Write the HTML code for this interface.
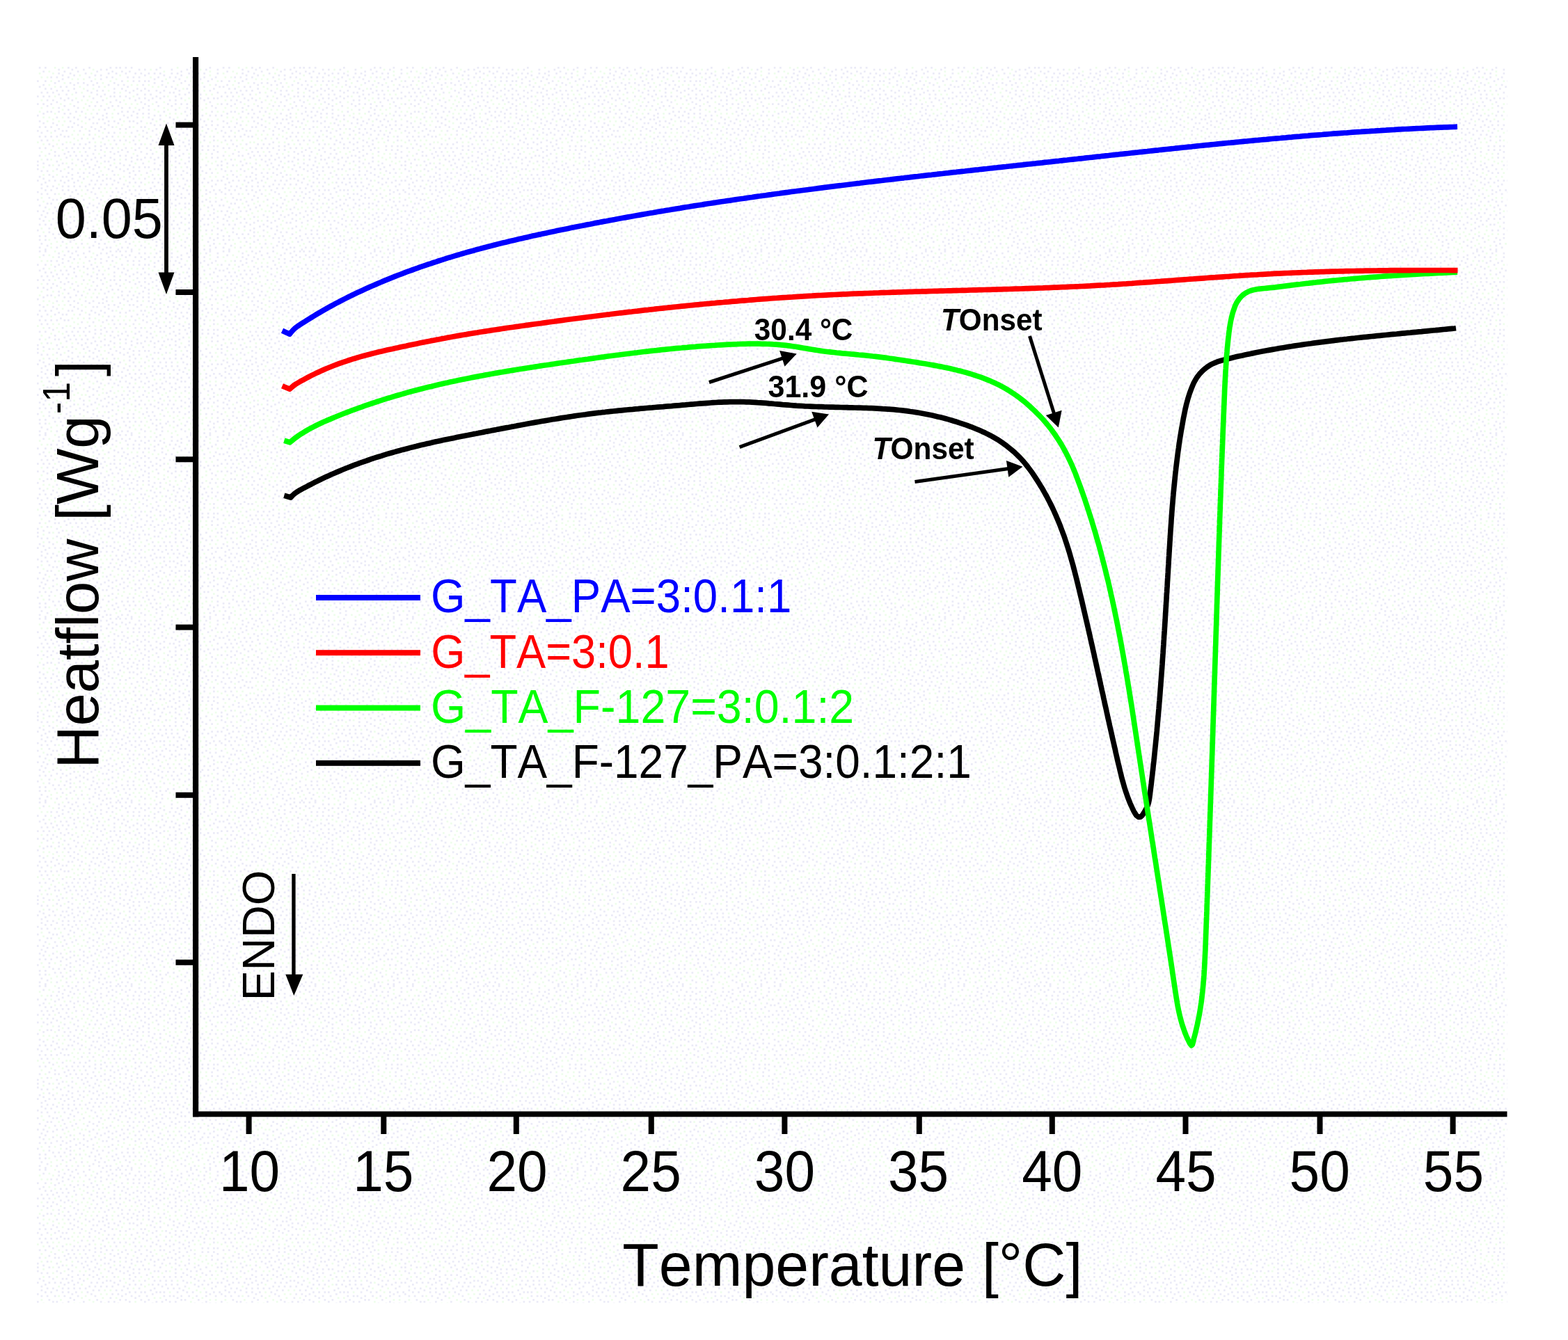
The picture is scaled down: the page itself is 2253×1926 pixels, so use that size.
<!DOCTYPE html>
<html lang="en">
<head>
<meta charset="utf-8">
<title>DSC thermograms</title>
<style>
html,body{margin:0;padding:0;background:#fff;}
body{width:2253px;height:1926px;overflow:hidden;}
svg{display:block;}
svg text{font-family:"Liberation Sans",Arial,Helvetica,sans-serif;font-kerning:none;}
</style>
</head>
<body>
<svg width="2253" height="1926" viewBox="0 0 2253 1926">
<defs><pattern id="dz" x="53" y="96" width="264.00" height="264.00" patternUnits="userSpaceOnUse"><path d="M2.75 1.375h2.75M11 1.375h2.75M44 1.375h2.75M55 1.375h2.75M74.25 1.375h2.75M104.5 1.375h2.75M112.75 1.375h2.75M118.25 1.375h2.75M126.5 1.375h2.75M134.75 1.375h2.75M176 1.375h2.75M220 1.375h2.75M228.25 1.375h2.75M247.5 1.375h2.75M30.25 4.125h2.75M49.5 4.125h2.75M66 4.125h2.75M90.75 4.125h2.75M99 4.125h2.75M145.75 4.125h2.75M154 4.125h2.75M170.5 4.125h2.75M192.5 4.125h2.75M214.5 4.125h2.75M242 4.125h2.75M258.5 4.125h2.75M8.25 6.875h2.75M38.5 6.875h2.75M57.75 6.875h2.75M85.25 6.875h2.75M107.25 6.875h2.75M121 6.875h2.75M132 6.875h2.75M206.25 6.875h2.75M222.75 6.875h2.75M30.25 9.625h2.75M46.75 9.625h2.75M68.75 9.625h2.75M101.75 9.625h2.75M112.75 9.625h2.75M126.5 9.625h2.75M140.25 9.625h2.75M148.5 9.625h2.75M159.5 9.625h2.75M167.75 9.625h2.75M176 9.625h2.75M192.5 9.625h2.75M200.75 9.625h2.75M217.25 9.625h2.75M231 9.625h2.75M239.25 9.625h2.75M258.5 9.625h2.75M35.75 12.375h2.75M52.25 12.375h2.75M82.5 12.375h2.75M90.75 12.375h2.75M154 12.375h2.75M181.5 12.375h2.75M206.25 12.375h2.75M19.25 15.125h2.75M27.5 15.125h2.75M44 15.125h2.75M74.25 15.125h2.75M99 15.125h2.75M107.25 15.125h2.75M129.25 15.125h2.75M137.5 15.125h2.75M145.75 15.125h2.75M173.25 15.125h2.75M189.75 15.125h2.75M198 15.125h2.75M222.75 15.125h2.75M239.25 15.125h2.75M255.75 15.125h2.75M35.75 17.875h2.75M90.75 17.875h2.75M167.75 17.875h2.75M203.5 17.875h2.75M233.75 17.875h2.75M250.25 17.875h2.75M0 20.625h2.75M11 20.625h2.75M30.25 20.625h2.75M77 20.625h2.75M121 20.625h2.75M137.5 20.625h2.75M145.75 20.625h2.75M154 20.625h2.75M159.5 20.625h2.75M178.75 20.625h2.75M195.25 20.625h2.75M211.75 20.625h2.75M244.75 20.625h2.75M24.75 23.375h2.75M46.75 23.375h2.75M57.75 23.375h2.75M66 23.375h2.75M85.25 23.375h2.75M110 23.375h2.75M167.75 23.375h2.75M206.25 23.375h2.75M225.5 23.375h2.75M8.25 26.125h2.75M52.25 26.125h2.75M71.5 26.125h2.75M79.75 26.125h2.75M101.75 26.125h2.75M115.5 26.125h2.75M123.75 26.125h2.75M151.25 26.125h2.75M178.75 26.125h2.75M217.25 26.125h2.75M231 26.125h2.75M255.75 26.125h2.75M2.75 28.875h2.75M33 28.875h2.75M41.25 28.875h2.75M88 28.875h2.75M129.25 28.875h2.75M184.25 28.875h2.75M192.5 28.875h2.75M239.25 28.875h2.75M261.25 28.875h2.75M11 31.625h2.75M19.25 31.625h2.75M52.25 31.625h2.75M110 31.625h2.75M121 31.625h2.75M143 31.625h2.75M154 31.625h2.75M198 31.625h2.75M214.5 31.625h2.75M253 31.625h2.75M27.5 34.375h2.75M35.75 34.375h2.75M44 34.375h2.75M71.5 34.375h2.75M85.25 34.375h2.75M93.5 34.375h2.75M126.5 34.375h2.75M137.5 34.375h2.75M148.5 34.375h2.75M159.5 34.375h2.75M170.5 34.375h2.75M181.5 34.375h2.75M203.5 34.375h2.75M222.75 34.375h2.75M231 34.375h2.75M247.5 34.375h2.75M5.5 37.125h2.75M13.75 37.125h2.75M22 37.125h2.75M55 37.125h2.75M77 37.125h2.75M110 37.125h2.75M132 37.125h2.75M176 37.125h2.75M189.75 37.125h2.75M195.25 37.125h2.75M217.25 37.125h2.75M258.5 37.125h2.75M30.25 39.875h2.75M41.25 39.875h2.75M85.25 39.875h2.75M96.25 39.875h2.75M143 39.875h2.75M154 39.875h2.75M162.25 39.875h2.75M203.5 39.875h2.75M211.75 39.875h2.75M225.5 39.875h2.75M233.75 39.875h2.75M0 42.625h2.75M8.25 42.625h2.75M16.5 42.625h2.75M66 42.625h2.75M90.75 42.625h2.75M104.5 42.625h2.75M110 42.625h2.75M118.25 42.625h2.75M126.5 42.625h2.75M170.5 42.625h2.75M181.5 42.625h2.75M198 42.625h2.75M33 45.375h2.75M44 45.375h2.75M79.75 45.375h2.75M132 45.375h2.75M145.75 45.375h2.75M154 45.375h2.75M165 45.375h2.75M176 45.375h2.75M206.25 45.375h2.75M225.5 45.375h2.75M233.75 45.375h2.75M244.75 45.375h2.75M253 45.375h2.75M258.5 45.375h2.75M13.75 48.125h2.75M22 48.125h2.75M38.5 48.125h2.75M49.5 48.125h2.75M93.5 48.125h2.75M112.75 48.125h2.75M140.25 48.125h2.75M159.5 48.125h2.75M189.75 48.125h2.75M198 48.125h2.75M239.25 48.125h2.75M27.5 50.875h2.75M57.75 50.875h2.75M85.25 50.875h2.75M104.5 50.875h2.75M118.25 50.875h2.75M148.5 50.875h2.75M170.5 50.875h2.75M228.25 50.875h2.75M247.5 50.875h2.75M0 53.625h2.75M8.25 53.625h2.75M19.25 53.625h2.75M154 53.625h2.75M187 53.625h2.75M198 53.625h2.75M206.25 53.625h2.75M214.5 53.625h2.75M13.75 56.375h2.75M38.5 56.375h2.75M52.25 56.375h2.75M74.25 56.375h2.75M82.5 56.375h2.75M90.75 56.375h2.75M107.25 56.375h2.75M115.5 56.375h2.75M159.5 56.375h2.75M173.25 56.375h2.75M192.5 56.375h2.75M222.75 56.375h2.75M231 56.375h2.75M250.25 56.375h2.75M30.25 59.125h2.75M57.75 59.125h2.75M101.75 59.125h2.75M121 59.125h2.75M132 59.125h2.75M151.25 59.125h2.75M214.5 59.125h2.75M255.75 59.125h2.75M44 61.875h2.75M96.25 61.875h2.75M145.75 61.875h2.75M159.5 61.875h2.75M198 61.875h2.75M220 61.875h2.75M13.75 64.625h2.75M19.25 64.625h2.75M30.25 64.625h2.75M55 64.625h2.75M63.25 64.625h2.75M121 64.625h2.75M129.25 64.625h2.75M137.5 64.625h2.75M181.5 64.625h2.75M211.75 64.625h2.75M250.25 64.625h2.75M8.25 67.375h2.75M38.5 67.375h2.75M46.75 67.375h2.75M85.25 67.375h2.75M99 67.375h2.75M115.5 67.375h2.75M143 67.375h2.75M151.25 67.375h2.75M159.5 67.375h2.75M220 67.375h2.75M0 70.125h2.75M93.5 70.125h2.75M123.75 70.125h2.75M134.75 70.125h2.75M167.75 70.125h2.75M176 70.125h2.75M214.5 70.125h2.75M225.5 70.125h2.75M236.5 70.125h2.75M247.5 70.125h2.75M255.75 70.125h2.75M27.5 72.875h2.75M44 72.875h2.75M52.25 72.875h2.75M68.75 72.875h2.75M79.75 72.875h2.75M99 72.875h2.75M129.25 72.875h2.75M143 72.875h2.75M159.5 72.875h2.75M189.75 72.875h2.75M57.75 75.625h2.75M74.25 75.625h2.75M88 75.625h2.75M93.5 75.625h2.75M118.25 75.625h2.75M165 75.625h2.75M176 75.625h2.75M195.25 75.625h2.75M211.75 75.625h2.75M222.75 75.625h2.75M233.75 75.625h2.75M2.75 78.375h2.75M46.75 78.375h2.75M101.75 78.375h2.75M110 78.375h2.75M132 78.375h2.75M137.5 78.375h2.75M148.5 78.375h2.75M203.5 78.375h2.75M228.25 78.375h2.75M239.25 78.375h2.75M250.25 78.375h2.75M8.25 81.125h2.75M22 81.125h2.75M52.25 81.125h2.75M79.75 81.125h2.75M85.25 81.125h2.75M96.25 81.125h2.75M115.5 81.125h2.75M143 81.125h2.75M162.25 81.125h2.75M187 81.125h2.75M195.25 81.125h2.75M209 81.125h2.75M27.5 83.875h2.75M57.75 83.875h2.75M101.75 83.875h2.75M167.75 83.875h2.75M176 83.875h2.75M200.75 83.875h2.75M217.25 83.875h2.75M231 83.875h2.75M242 83.875h2.75M250.25 83.875h2.75M258.5 83.875h2.75M2.75 86.625h2.75M11 86.625h2.75M19.25 86.625h2.75M44 86.625h2.75M49.5 86.625h2.75M63.25 86.625h2.75M77 86.625h2.75M90.75 86.625h2.75M107.25 86.625h2.75M132 86.625h2.75M148.5 86.625h2.75M154 86.625h2.75M225.5 86.625h2.75M236.5 86.625h2.75M30.25 89.375h2.75M82.5 89.375h2.75M96.25 89.375h2.75M118.25 89.375h2.75M126.5 89.375h2.75M170.5 89.375h2.75M184.25 89.375h2.75M198 89.375h2.75M206.25 89.375h2.75M214.5 89.375h2.75M244.75 89.375h2.75M255.75 89.375h2.75M0 92.125h2.75M13.75 92.125h2.75M24.75 92.125h2.75M35.75 92.125h2.75M41.25 92.125h2.75M60.5 92.125h2.75M74.25 92.125h2.75M88 92.125h2.75M143 92.125h2.75M151.25 92.125h2.75M165 92.125h2.75M189.75 92.125h2.75M220 92.125h2.75M228.25 92.125h2.75M5.5 94.875h2.75M101.75 94.875h2.75M110 94.875h2.75M134.75 94.875h2.75M156.75 94.875h2.75M198 94.875h2.75M209 94.875h2.75M242 94.875h2.75M33 97.625h2.75M74.25 97.625h2.75M170.5 97.625h2.75M184.25 97.625h2.75M203.5 97.625h2.75M214.5 97.625h2.75M225.5 97.625h2.75M233.75 97.625h2.75M2.75 100.375h2.75M11 100.375h2.75M19.25 100.375h2.75M27.5 100.375h2.75M38.5 100.375h2.75M44 100.375h2.75M99 100.375h2.75M107.25 100.375h2.75M140.25 100.375h2.75M151.25 100.375h2.75M239.25 100.375h2.75M253 100.375h2.75M63.25 103.125h2.75M79.75 103.125h2.75M93.5 103.125h2.75M156.75 103.125h2.75M173.25 103.125h2.75M189.75 103.125h2.75M222.75 103.125h2.75M5.5 105.875h2.75M13.75 105.875h2.75M110 105.875h2.75M118.25 105.875h2.75M126.5 105.875h2.75M137.5 105.875h2.75M165 105.875h2.75M203.5 105.875h2.75M217.25 105.875h2.75M239.25 105.875h2.75M253 105.875h2.75M74.25 108.625h2.75M170.5 108.625h2.75M184.25 108.625h2.75M195.25 108.625h2.75M209 108.625h2.75M16.5 111.375h2.75M35.75 111.375h2.75M52.25 111.375h2.75M60.5 111.375h2.75M68.75 111.375h2.75M96.25 111.375h2.75M112.75 111.375h2.75M140.25 111.375h2.75M148.5 111.375h2.75M162.25 111.375h2.75M176 111.375h2.75M189.75 111.375h2.75M217.25 111.375h2.75M22 114.125h2.75M82.5 114.125h2.75M90.75 114.125h2.75M203.5 114.125h2.75M211.75 114.125h2.75M236.5 114.125h2.75M244.75 114.125h2.75M253 114.125h2.75M258.5 114.125h2.75M2.75 116.875h2.75M11 116.875h2.75M41.25 116.875h2.75M49.5 116.875h2.75M57.75 116.875h2.75M66 116.875h2.75M74.25 116.875h2.75M99 116.875h2.75M107.25 116.875h2.75M126.5 116.875h2.75M145.75 116.875h2.75M156.75 116.875h2.75M176 116.875h2.75M181.5 116.875h2.75M195.25 116.875h2.75M220 116.875h2.75M82.5 119.625h2.75M90.75 119.625h2.75M121 119.625h2.75M140.25 119.625h2.75M162.25 119.625h2.75M189.75 119.625h2.75M203.5 119.625h2.75M214.5 119.625h2.75M236.5 119.625h2.75M244.75 119.625h2.75M253 119.625h2.75M24.75 122.375h2.75M44 122.375h2.75M52.25 122.375h2.75M68.75 122.375h2.75M104.5 122.375h2.75M115.5 122.375h2.75M129.25 122.375h2.75M148.5 122.375h2.75M198 122.375h2.75M225.5 122.375h2.75M258.5 122.375h2.75M16.5 125.125h2.75M38.5 125.125h2.75M79.75 125.125h2.75M110 125.125h2.75M156.75 125.125h2.75M165 125.125h2.75M209 125.125h2.75M250.25 125.125h2.75M2.75 127.875h2.75M24.75 127.875h2.75M30.25 127.875h2.75M46.75 127.875h2.75M55 127.875h2.75M63.25 127.875h2.75M71.5 127.875h2.75M96.25 127.875h2.75M118.25 127.875h2.75M126.5 127.875h2.75M143 127.875h2.75M187 127.875h2.75M192.5 127.875h2.75M203.5 127.875h2.75M41.25 130.625h2.75M82.5 130.625h2.75M90.75 130.625h2.75M104.5 130.625h2.75M134.75 130.625h2.75M154 130.625h2.75M162.25 130.625h2.75M173.25 130.625h2.75M181.5 130.625h2.75M198 130.625h2.75M217.25 130.625h2.75M250.25 130.625h2.75M258.5 130.625h2.75M13.75 133.375h2.75M57.75 133.375h2.75M68.75 133.375h2.75M77 133.375h2.75M110 133.375h2.75M126.5 133.375h2.75M143 133.375h2.75M148.5 133.375h2.75M167.75 133.375h2.75M0 136.125h2.75M27.5 136.125h2.75M63.25 136.125h2.75M85.25 136.125h2.75M96.25 136.125h2.75M101.75 136.125h2.75M134.75 136.125h2.75M178.75 136.125h2.75M189.75 136.125h2.75M198 136.125h2.75M217.25 136.125h2.75M8.25 138.875h2.75M35.75 138.875h2.75M49.5 138.875h2.75M71.5 138.875h2.75M118.25 138.875h2.75M151.25 138.875h2.75M167.75 138.875h2.75M203.5 138.875h2.75M211.75 138.875h2.75M231 138.875h2.75M0 141.625h2.75M16.5 141.625h2.75M30.25 141.625h2.75M66 141.625h2.75M82.5 141.625h2.75M104.5 141.625h2.75M123.75 141.625h2.75M132 141.625h2.75M176 141.625h2.75M225.5 141.625h2.75M242 141.625h2.75M258.5 141.625h2.75M44 144.375h2.75M74.25 144.375h2.75M88 144.375h2.75M112.75 144.375h2.75M137.5 144.375h2.75M145.75 144.375h2.75M154 144.375h2.75M159.5 144.375h2.75M198 144.375h2.75M214.5 144.375h2.75M233.75 144.375h2.75M0 147.125h2.75M27.5 147.125h2.75M49.5 147.125h2.75M79.75 147.125h2.75M101.75 147.125h2.75M118.25 147.125h2.75M129.25 147.125h2.75M167.75 147.125h2.75M173.25 147.125h2.75M184.25 147.125h2.75M220 147.125h2.75M228.25 147.125h2.75M247.5 147.125h2.75M5.5 149.875h2.75M13.75 149.875h2.75M33 149.875h2.75M107.25 149.875h2.75M123.75 149.875h2.75M137.5 149.875h2.75M145.75 149.875h2.75M198 149.875h2.75M209 149.875h2.75M236.5 149.875h2.75M44 152.625h2.75M57.75 152.625h2.75M66 152.625h2.75M74.25 152.625h2.75M85.25 152.625h2.75M132 152.625h2.75M156.75 152.625h2.75M214.5 152.625h2.75M242 152.625h2.75M250.25 152.625h2.75M16.5 155.375h2.75M49.5 155.375h2.75M79.75 155.375h2.75M93.5 155.375h2.75M110 155.375h2.75M140.25 155.375h2.75M165 155.375h2.75M181.5 155.375h2.75M189.75 155.375h2.75M198 155.375h2.75M206.25 155.375h2.75M220 155.375h2.75M2.75 158.125h2.75M22 158.125h2.75M35.75 158.125h2.75M41.25 158.125h2.75M60.5 158.125h2.75M88 158.125h2.75M132 158.125h2.75M225.5 158.125h2.75M8.25 160.875h2.75M49.5 160.875h2.75M66 160.875h2.75M99 160.875h2.75M104.5 160.875h2.75M118.25 160.875h2.75M137.5 160.875h2.75M154 160.875h2.75M167.75 160.875h2.75M176 160.875h2.75M184.25 160.875h2.75M192.5 160.875h2.75M209 160.875h2.75M231 160.875h2.75M239.25 160.875h2.75M0 163.625h2.75M16.5 163.625h2.75M24.75 163.625h2.75M33 163.625h2.75M44 163.625h2.75M57.75 163.625h2.75M77 163.625h2.75M85.25 163.625h2.75M93.5 163.625h2.75M110 163.625h2.75M214.5 163.625h2.75M250.25 163.625h2.75M258.5 163.625h2.75M11 166.375h2.75M38.5 166.375h2.75M52.25 166.375h2.75M115.5 166.375h2.75M132 166.375h2.75M140.25 166.375h2.75M148.5 166.375h2.75M165 166.375h2.75M173.25 166.375h2.75M184.25 166.375h2.75M192.5 166.375h2.75M200.75 166.375h2.75M225.5 166.375h2.75M236.5 166.375h2.75M244.75 166.375h2.75M5.5 169.125h2.75M74.25 169.125h2.75M82.5 169.125h2.75M90.75 169.125h2.75M99 169.125h2.75M107.25 169.125h2.75M123.75 169.125h2.75M178.75 169.125h2.75M211.75 169.125h2.75M231 169.125h2.75M255.75 169.125h2.75M13.75 171.875h2.75M22 171.875h2.75M35.75 171.875h2.75M44 171.875h2.75M52.25 171.875h2.75M60.5 171.875h2.75M68.75 171.875h2.75M129.25 171.875h2.75M145.75 171.875h2.75M167.75 171.875h2.75M187 171.875h2.75M195.25 171.875h2.75M203.5 171.875h2.75M250.25 171.875h2.75M5.5 174.625h2.75M27.5 174.625h2.75M79.75 174.625h2.75M88 174.625h2.75M112.75 174.625h2.75M121 174.625h2.75M162.25 174.625h2.75M209 174.625h2.75M11 177.375h2.75M19.25 177.375h2.75M35.75 177.375h2.75M44 177.375h2.75M55 177.375h2.75M71.5 177.375h2.75M132 177.375h2.75M140.25 177.375h2.75M148.5 177.375h2.75M154 177.375h2.75M170.5 177.375h2.75M176 177.375h2.75M181.5 177.375h2.75M200.75 177.375h2.75M214.5 177.375h2.75M222.75 177.375h2.75M242 177.375h2.75M253 177.375h2.75M261.25 177.375h2.75M0 180.125h2.75M49.5 180.125h2.75M77 180.125h2.75M107.25 180.125h2.75M115.5 180.125h2.75M126.5 180.125h2.75M165 180.125h2.75M247.5 180.125h2.75M5.5 182.875h2.75M13.75 182.875h2.75M24.75 182.875h2.75M38.5 182.875h2.75M57.75 182.875h2.75M82.5 182.875h2.75M121 182.875h2.75M134.75 182.875h2.75M145.75 182.875h2.75M156.75 182.875h2.75M181.5 182.875h2.75M189.75 182.875h2.75M195.25 182.875h2.75M206.25 182.875h2.75M217.25 182.875h2.75M228.25 182.875h2.75M242 182.875h2.75M255.75 182.875h2.75M46.75 185.625h2.75M104.5 185.625h2.75M140.25 185.625h2.75M200.75 185.625h2.75M16.5 188.375h2.75M52.25 188.375h2.75M85.25 188.375h2.75M118.25 188.375h2.75M126.5 188.375h2.75M148.5 188.375h2.75M159.5 188.375h2.75M184.25 188.375h2.75M206.25 188.375h2.75M211.75 188.375h2.75M231 188.375h2.75M0 191.125h2.75M22 191.125h2.75M27.5 191.125h2.75M44 191.125h2.75M66 191.125h2.75M90.75 191.125h2.75M101.75 191.125h2.75M110 191.125h2.75M132 191.125h2.75M154 191.125h2.75M170.5 191.125h2.75M178.75 191.125h2.75M189.75 191.125h2.75M198 191.125h2.75M242 191.125h2.75M35.75 193.875h2.75M115.5 193.875h2.75M165 193.875h2.75M225.5 193.875h2.75M236.5 193.875h2.75M247.5 193.875h2.75M255.75 193.875h2.75M13.75 196.625h2.75M19.25 196.625h2.75M74.25 196.625h2.75M88 196.625h2.75M129.25 196.625h2.75M137.5 196.625h2.75M145.75 196.625h2.75M159.5 196.625h2.75M176 196.625h2.75M192.5 196.625h2.75M203.5 196.625h2.75M211.75 196.625h2.75M217.25 196.625h2.75M2.75 199.375h2.75M38.5 199.375h2.75M55 199.375h2.75M79.75 199.375h2.75M170.5 199.375h2.75M181.5 199.375h2.75M198 199.375h2.75M222.75 199.375h2.75M250.25 199.375h2.75M261.25 199.375h2.75M11 202.125h2.75M24.75 202.125h2.75M49.5 202.125h2.75M71.5 202.125h2.75M85.25 202.125h2.75M104.5 202.125h2.75M132 202.125h2.75M154 202.125h2.75M165 202.125h2.75M189.75 202.125h2.75M211.75 202.125h2.75M244.75 202.125h2.75M41.25 204.875h2.75M99 204.875h2.75M137.5 204.875h2.75M173.25 204.875h2.75M233.75 204.875h2.75M253 204.875h2.75M0 207.625h2.75M8.25 207.625h2.75M27.5 207.625h2.75M35.75 207.625h2.75M79.75 207.625h2.75M121 207.625h2.75M129.25 207.625h2.75M151.25 207.625h2.75M13.75 210.375h2.75M22 210.375h2.75M74.25 210.375h2.75M101.75 210.375h2.75M112.75 210.375h2.75M145.75 210.375h2.75M156.75 210.375h2.75M165 210.375h2.75M187 210.375h2.75M203.5 210.375h2.75M222.75 210.375h2.75M231 210.375h2.75M253 210.375h2.75M5.5 213.125h2.75M60.5 213.125h2.75M85.25 213.125h2.75M96.25 213.125h2.75M107.25 213.125h2.75M123.75 213.125h2.75M176 213.125h2.75M217.25 213.125h2.75M239.25 213.125h2.75M247.5 213.125h2.75M11 215.875h2.75M46.75 215.875h2.75M66 215.875h2.75M90.75 215.875h2.75M118.25 215.875h2.75M140.25 215.875h2.75M148.5 215.875h2.75M189.75 215.875h2.75M206.25 215.875h2.75M225.5 215.875h2.75M258.5 215.875h2.75M2.75 218.625h2.75M22 218.625h2.75M33 218.625h2.75M82.5 218.625h2.75M101.75 218.625h2.75M129.25 218.625h2.75M173.25 218.625h2.75M211.75 218.625h2.75M220 218.625h2.75M236.5 218.625h2.75M244.75 218.625h2.75M253 218.625h2.75M8.25 221.375h2.75M52.25 221.375h2.75M66 221.375h2.75M77 221.375h2.75M107.25 221.375h2.75M123.75 221.375h2.75M145.75 221.375h2.75M154 221.375h2.75M162.25 221.375h2.75M178.75 221.375h2.75M187 221.375h2.75M195.25 221.375h2.75M225.5 221.375h2.75M233.75 221.375h2.75M27.5 224.125h2.75M35.75 224.125h2.75M46.75 224.125h2.75M71.5 224.125h2.75M93.5 224.125h2.75M99 224.125h2.75M115.5 224.125h2.75M140.25 224.125h2.75M167.75 224.125h2.75M206.25 224.125h2.75M217.25 224.125h2.75M258.5 224.125h2.75M2.75 226.875h2.75M11 226.875h2.75M19.25 226.875h2.75M41.25 226.875h2.75M60.5 226.875h2.75M156.75 226.875h2.75M173.25 226.875h2.75M192.5 226.875h2.75M200.75 226.875h2.75M228.25 226.875h2.75M239.25 226.875h2.75M244.75 226.875h2.75M33 229.625h2.75M55 229.625h2.75M66 229.625h2.75M79.75 229.625h2.75M107.25 229.625h2.75M178.75 229.625h2.75M222.75 229.625h2.75M16.5 232.375h2.75M46.75 232.375h2.75M71.5 232.375h2.75M101.75 232.375h2.75M156.75 232.375h2.75M165 232.375h2.75M195.25 232.375h2.75M203.5 232.375h2.75M217.25 232.375h2.75M258.5 232.375h2.75M0 235.125h2.75M41.25 235.125h2.75M60.5 235.125h2.75M79.75 235.125h2.75M112.75 235.125h2.75M129.25 235.125h2.75M137.5 235.125h2.75M151.25 235.125h2.75M211.75 235.125h2.75M242 235.125h2.75M250.25 235.125h2.75M16.5 237.875h2.75M46.75 237.875h2.75M85.25 237.875h2.75M93.5 237.875h2.75M159.5 237.875h2.75M167.75 237.875h2.75M181.5 237.875h2.75M22 240.625h2.75M30.25 240.625h2.75M38.5 240.625h2.75M77 240.625h2.75M101.75 240.625h2.75M121 240.625h2.75M129.25 240.625h2.75M137.5 240.625h2.75M258.5 240.625h2.75M2.75 243.375h2.75M11 243.375h2.75M46.75 243.375h2.75M60.5 243.375h2.75M88 243.375h2.75M112.75 243.375h2.75M162.25 243.375h2.75M170.5 243.375h2.75M222.75 243.375h2.75M24.75 246.125h2.75M33 246.125h2.75M74.25 246.125h2.75M82.5 246.125h2.75M107.25 246.125h2.75M123.75 246.125h2.75M132 246.125h2.75M140.25 246.125h2.75M148.5 246.125h2.75M187 246.125h2.75M195.25 246.125h2.75M214.5 246.125h2.75M228.25 246.125h2.75M247.5 246.125h2.75M258.5 246.125h2.75M2.75 248.875h2.75M11 248.875h2.75M52.25 248.875h2.75M90.75 248.875h2.75M115.5 248.875h2.75M165 248.875h2.75M176 248.875h2.75M184.25 248.875h2.75M253 248.875h2.75M35.75 251.625h2.75M46.75 251.625h2.75M82.5 251.625h2.75M110 251.625h2.75M126.5 251.625h2.75M170.5 251.625h2.75M200.75 251.625h2.75M211.75 251.625h2.75M231 251.625h2.75M244.75 251.625h2.75M5.5 254.375h2.75M63.25 254.375h2.75M88 254.375h2.75M96.25 254.375h2.75M132 254.375h2.75M178.75 254.375h2.75M253 254.375h2.75M13.75 257.125h2.75M79.75 257.125h2.75M148.5 257.125h2.75M170.5 257.125h2.75M206.25 257.125h2.75M247.5 257.125h2.75M2.75 259.875h2.75M27.5 259.875h2.75M41.25 259.875h2.75M57.75 259.875h2.75M74.25 259.875h2.75M88 259.875h2.75M99 259.875h2.75M104.5 259.875h2.75M121 259.875h2.75M129.25 259.875h2.75M154 259.875h2.75M178.75 259.875h2.75M211.75 259.875h2.75M225.5 259.875h2.75M255.75 259.875h2.75M11 262.625h2.75M93.5 262.625h2.75M115.5 262.625h2.75M134.75 262.625h2.75M220 262.625h2.75M239.25 262.625h2.75M247.5 262.625h2.75" stroke="#ebebf7" stroke-width="2.75" fill="none"/><path d="M24.75 1.375h2.75M35.75 1.375h2.75M200.75 1.375h2.75M79.75 4.125h2.75M162.25 4.125h2.75M233.75 4.125h2.75M16.5 6.875h2.75M181.5 6.875h2.75M247.5 6.875h2.75M2.75 9.625h2.75M22 9.625h2.75M77 9.625h2.75M60.5 12.375h2.75M118.25 12.375h2.75M247.5 12.375h2.75M5.5 15.125h2.75M13.75 15.125h2.75M162.25 15.125h2.75M214.5 15.125h2.75M228.25 15.125h2.75M49.5 17.875h2.75M57.75 17.875h2.75M66 17.875h2.75M82.5 17.875h2.75M112.75 17.875h2.75M184.25 17.875h2.75M19.25 20.625h2.75M104.5 20.625h2.75M129.25 20.625h2.75M220 20.625h2.75M258.5 20.625h2.75M38.5 23.375h2.75M93.5 23.375h2.75M187 23.375h2.75M236.5 23.375h2.75M16.5 26.125h2.75M134.75 26.125h2.75M143 26.125h2.75M159.5 26.125h2.75M200.75 26.125h2.75M247.5 26.125h2.75M24.75 28.875h2.75M60.5 28.875h2.75M96.25 28.875h2.75M165 28.875h2.75M173.25 28.875h2.75M222.75 28.875h2.75M66 31.625h2.75M79.75 31.625h2.75M209 31.625h2.75M101.75 34.375h2.75M239.25 34.375h2.75M63.25 37.125h2.75M118.25 37.125h2.75M49.5 39.875h2.75M242 39.875h2.75M250.25 39.875h2.75M24.75 42.625h2.75M74.25 42.625h2.75M137.5 42.625h2.75M187 42.625h2.75M55 45.375h2.75M99 45.375h2.75M217.25 45.375h2.75M5.5 48.125h2.75M63.25 48.125h2.75M71.5 48.125h2.75M123.75 48.125h2.75M211.75 48.125h2.75M77 50.875h2.75M181.5 50.875h2.75M220 50.875h2.75M33 53.625h2.75M46.75 53.625h2.75M68.75 53.625h2.75M99 53.625h2.75M126.5 53.625h2.75M134.75 53.625h2.75M143 53.625h2.75M165 53.625h2.75M242 53.625h2.75M258.5 53.625h2.75M5.5 59.125h2.75M22 59.125h2.75M66 59.125h2.75M140.25 59.125h2.75M181.5 59.125h2.75M203.5 59.125h2.75M242 59.125h2.75M35.75 61.875h2.75M71.5 61.875h2.75M79.75 61.875h2.75M88 61.875h2.75M110 61.875h2.75M167.75 61.875h2.75M187 61.875h2.75M228.25 61.875h2.75M236.5 61.875h2.75M2.75 64.625h2.75M173.25 64.625h2.75M258.5 64.625h2.75M24.75 67.375h2.75M68.75 67.375h2.75M77 67.375h2.75M107.25 67.375h2.75M189.75 67.375h2.75M198 67.375h2.75M206.25 67.375h2.75M231 67.375h2.75M242 67.375h2.75M60.5 70.125h2.75M184.25 70.125h2.75M8.25 72.875h2.75M16.5 72.875h2.75M35.75 72.875h2.75M107.25 72.875h2.75M151.25 72.875h2.75M200.75 72.875h2.75M22 75.625h2.75M244.75 75.625h2.75M258.5 75.625h2.75M13.75 78.375h2.75M30.25 78.375h2.75M38.5 78.375h2.75M63.25 78.375h2.75M123.75 78.375h2.75M170.5 78.375h2.75M181.5 78.375h2.75M217.25 78.375h2.75M68.75 81.125h2.75M156.75 81.125h2.75M35.75 83.875h2.75M121 83.875h2.75M112.75 86.625h2.75M137.5 86.625h2.75M192.5 86.625h2.75M68.75 89.375h2.75M159.5 89.375h2.75M178.75 89.375h2.75M52.25 92.125h2.75M236.5 92.125h2.75M250.25 92.125h2.75M19.25 94.875h2.75M93.5 94.875h2.75M118.25 94.875h2.75M126.5 94.875h2.75M176 94.875h2.75M258.5 94.875h2.75M49.5 97.625h2.75M57.75 97.625h2.75M66 97.625h2.75M82.5 97.625h2.75M145.75 97.625h2.75M192.5 97.625h2.75M88 100.375h2.75M115.5 100.375h2.75M123.75 100.375h2.75M132 100.375h2.75M162.25 100.375h2.75M247.5 100.375h2.75M52.25 103.125h2.75M71.5 103.125h2.75M181.5 103.125h2.75M198 103.125h2.75M211.75 103.125h2.75M231 103.125h2.75M22 105.875h2.75M30.25 105.875h2.75M57.75 105.875h2.75M101.75 105.875h2.75M145.75 105.875h2.75M258.5 105.875h2.75M0 108.625h2.75M41.25 108.625h2.75M46.75 108.625h2.75M82.5 108.625h2.75M90.75 108.625h2.75M132 108.625h2.75M225.5 108.625h2.75M233.75 108.625h2.75M247.5 108.625h2.75M8.25 111.375h2.75M27.5 111.375h2.75M104.5 111.375h2.75M123.75 111.375h2.75M154 111.375h2.75M30.25 116.875h2.75M115.5 116.875h2.75M134.75 116.875h2.75M167.75 116.875h2.75M225.5 116.875h2.75M19.25 119.625h2.75M35.75 119.625h2.75M5.5 122.375h2.75M60.5 122.375h2.75M96.25 122.375h2.75M170.5 122.375h2.75M184.25 122.375h2.75M88 125.125h2.75M137.5 125.125h2.75M178.75 125.125h2.75M217.25 125.125h2.75M233.75 125.125h2.75M242 125.125h2.75M11 127.875h2.75M225.5 127.875h2.75M231 130.625h2.75M242 130.625h2.75M5.5 133.375h2.75M19.25 133.375h2.75M33 133.375h2.75M49.5 133.375h2.75M118.25 133.375h2.75M206.25 133.375h2.75M236.5 133.375h2.75M159.5 136.125h2.75M225.5 136.125h2.75M244.75 136.125h2.75M255.75 136.125h2.75M41.25 138.875h2.75M90.75 138.875h2.75M110 138.875h2.75M140.25 138.875h2.75M184.25 138.875h2.75M250.25 138.875h2.75M22 141.625h2.75M55 141.625h2.75M192.5 141.625h2.75M8.25 144.375h2.75M96.25 144.375h2.75M206.25 144.375h2.75M38.5 147.125h2.75M60.5 147.125h2.75M68.75 147.125h2.75M189.75 147.125h2.75M255.75 147.125h2.75M22 149.875h2.75M90.75 149.875h2.75M162.25 149.875h2.75M178.75 149.875h2.75M228.25 152.625h2.75M258.5 152.625h2.75M8.25 155.375h2.75M27.5 155.375h2.75M99 155.375h2.75M115.5 155.375h2.75M148.5 155.375h2.75M173.25 155.375h2.75M233.75 155.375h2.75M71.5 158.125h2.75M123.75 158.125h2.75M159.5 158.125h2.75M247.5 158.125h2.75M255.75 158.125h2.75M145.75 160.875h2.75M200.75 160.875h2.75M126.5 163.625h2.75M220 163.625h2.75M63.25 166.375h2.75M159.5 166.375h2.75M30.25 169.125h2.75M154 169.125h2.75M137.5 171.875h2.75M217.25 171.875h2.75M239.25 171.875h2.75M96.25 174.625h2.75M104.5 174.625h2.75M228.25 174.625h2.75M63.25 177.375h2.75M189.75 177.375h2.75M233.75 177.375h2.75M90.75 180.125h2.75M99 180.125h2.75M30.25 182.875h2.75M68.75 182.875h2.75M63.25 185.625h2.75M93.5 185.625h2.75M112.75 185.625h2.75M167.75 185.625h2.75M176 185.625h2.75M222.75 185.625h2.75M236.5 185.625h2.75M5.5 188.375h2.75M33 188.375h2.75M74.25 188.375h2.75M247.5 188.375h2.75M255.75 188.375h2.75M79.75 191.125h2.75M140.25 191.125h2.75M220 191.125h2.75M8.25 193.875h2.75M52.25 193.875h2.75M60.5 193.875h2.75M96.25 193.875h2.75M30.25 196.625h2.75M46.75 196.625h2.75M107.25 196.625h2.75M121 196.625h2.75M151.25 196.625h2.75M66 199.375h2.75M93.5 199.375h2.75M231 199.375h2.75M239.25 199.375h2.75M33 202.125h2.75M115.5 202.125h2.75M123.75 202.125h2.75M143 202.125h2.75M16.5 204.875h2.75M57.75 204.875h2.75M93.5 204.875h2.75M110 204.875h2.75M159.5 204.875h2.75M184.25 204.875h2.75M198 204.875h2.75M206.25 204.875h2.75M217.25 204.875h2.75M225.5 204.875h2.75M52.25 207.625h2.75M63.25 207.625h2.75M68.75 207.625h2.75M88 207.625h2.75M178.75 207.625h2.75M244.75 207.625h2.75M258.5 207.625h2.75M44 210.375h2.75M137.5 210.375h2.75M195.25 210.375h2.75M211.75 210.375h2.75M38.5 213.125h2.75M132 213.125h2.75M27.5 215.875h2.75M52.25 215.875h2.75M74.25 215.875h2.75M159.5 215.875h2.75M167.75 215.875h2.75M181.5 215.875h2.75M198 215.875h2.75M41.25 218.625h2.75M112.75 218.625h2.75M16.5 221.375h2.75M57.75 221.375h2.75M88 221.375h2.75M134.75 221.375h2.75M250.25 224.125h2.75M85.25 226.875h2.75M123.75 226.875h2.75M148.5 226.875h2.75M184.25 226.875h2.75M211.75 226.875h2.75M115.5 229.625h2.75M132 229.625h2.75M140.25 229.625h2.75M233.75 229.625h2.75M253 229.625h2.75M5.5 232.375h2.75M24.75 232.375h2.75M88 232.375h2.75M96.25 232.375h2.75M121 232.375h2.75M145.75 232.375h2.75M187 232.375h2.75M33 235.125h2.75M176 235.125h2.75M233.75 235.125h2.75M8.25 237.875h2.75M52.25 237.875h2.75M66 237.875h2.75M107.25 237.875h2.75M189.75 237.875h2.75M200.75 237.875h2.75M222.75 237.875h2.75M145.75 240.625h2.75M154 240.625h2.75M195.25 240.625h2.75M209 240.625h2.75M217.25 240.625h2.75M231 240.625h2.75M242 240.625h2.75M250.25 240.625h2.75M55 243.375h2.75M68.75 243.375h2.75M176 243.375h2.75M203.5 243.375h2.75M236.5 243.375h2.75M41.25 246.125h2.75M99 246.125h2.75M156.75 246.125h2.75M16.5 248.875h2.75M63.25 248.875h2.75M206.25 248.875h2.75M220 248.875h2.75M236.5 248.875h2.75M27.5 251.625h2.75M101.75 251.625h2.75M137.5 251.625h2.75M145.75 251.625h2.75M154 251.625h2.75M189.75 251.625h2.75M19.25 254.375h2.75M41.25 254.375h2.75M55 254.375h2.75M71.5 254.375h2.75M118.25 254.375h2.75M159.5 254.375h2.75M195.25 254.375h2.75M222.75 254.375h2.75M261.25 254.375h2.75M33 257.125h2.75M112.75 257.125h2.75M140.25 257.125h2.75M217.25 257.125h2.75M239.25 257.125h2.75M19.25 259.875h2.75M49.5 259.875h2.75M66 259.875h2.75M162.25 259.875h2.75M187 259.875h2.75M198 259.875h2.75M231 259.875h2.75M145.75 262.625h2.75M167.75 262.625h2.75M192.5 262.625h2.75" stroke="#eefdec" stroke-width="2.75" fill="none"/></pattern></defs>
<rect x="0" y="0" width="2253" height="1926" fill="#fff"/>
<rect x="53" y="96" width="2112.5" height="1777" fill="url(#dz)"/>
<path d="M408.3 712.3L417.6 715.0 420.5 712.0 423.4 709.4 426.6 707.1 430.0 705.0 433.5 703.1 437.0 701.2 440.6 699.4 444.1 697.5 447.7 695.7 451.2 693.8 454.8 692.1 458.4 690.3 462.0 688.5 465.6 686.8 469.2 685.1 472.9 683.5 476.5 681.8 480.2 680.2 483.9 678.6 487.5 677.1 491.2 675.5 494.9 674.0 498.6 672.5 502.4 671.1 506.1 669.6 509.8 668.2 513.6 666.8 517.3 665.4 521.1 664.1 524.9 662.8 528.7 661.5 532.4 660.2 536.2 658.9 540.0 657.7 543.9 656.5 547.7 655.3 551.5 654.1 555.3 652.9 559.2 651.8 563.0 650.7 566.9 649.6 570.7 648.5 574.6 647.5 578.4 646.4 582.3 645.4 586.2 644.4 590.0 643.4 593.9 642.4 597.8 641.5 601.7 640.5 605.6 639.6 609.5 638.7 613.4 637.8 617.3 636.9 621.2 636.0 625.1 635.1 629.0 634.3 632.9 633.4 636.8 632.6 640.7 631.8 644.6 631.0 648.6 630.2 652.5 629.4 656.4 628.6 660.3 627.8 664.2 627.0 668.2 626.2 672.1 625.5 676.0 624.7 679.9 623.9 683.9 623.2 687.8 622.4 691.7 621.7 695.7 620.9 699.6 620.1 703.5 619.4 707.4 618.6 711.4 617.9 715.3 617.1 719.2 616.4 723.2 615.6 727.1 614.9 731.0 614.2 734.9 613.4 738.9 612.7 742.8 611.9 746.7 611.2 750.7 610.5 754.6 609.8 758.5 609.0 762.5 608.3 766.4 607.6 770.4 606.9 774.3 606.2 778.2 605.5 782.2 604.9 786.1 604.2 790.1 603.5 794.0 602.8 798.0 602.2 801.9 601.6 805.9 600.9 809.8 600.3 813.8 599.7 817.7 599.1 821.7 598.5 825.6 597.9 829.6 597.3 833.5 596.8 837.5 596.2 841.5 595.7 845.4 595.1 849.4 594.6 853.4 594.1 857.3 593.6 861.3 593.2 865.3 592.7 869.3 592.3 873.2 591.8 877.2 591.4 881.2 591.0 885.2 590.6 889.1 590.2 893.1 589.8 897.1 589.4 901.1 589.0 905.1 588.6 909.1 588.3 913.0 587.9 917.0 587.6 921.0 587.2 925.0 586.9 929.0 586.5 933.0 586.2 937.0 585.9 940.9 585.5 944.9 585.2 948.9 584.9 952.9 584.6 956.9 584.2 960.9 583.9 964.9 583.6 968.8 583.2 972.8 582.9 976.8 582.6 980.8 582.2 984.8 581.9 988.8 581.5 992.8 581.2 996.7 580.9 1000.7 580.5 1004.7 580.2 1008.7 579.9 1012.7 579.6 1016.7 579.3 1020.7 579.0 1024.7 578.7 1028.7 578.5 1032.6 578.2 1036.6 578.1 1040.6 577.9 1044.6 577.8 1048.6 577.7 1052.6 577.6 1056.6 577.6 1060.6 577.6 1064.6 577.6 1068.6 577.7 1072.6 577.8 1076.6 577.9 1080.6 578.1 1084.6 578.3 1088.6 578.6 1092.6 578.8 1096.6 579.1 1100.6 579.4 1104.6 579.8 1108.5 580.1 1112.5 580.5 1116.5 580.8 1120.5 581.2 1124.5 581.6 1128.5 581.9 1132.5 582.2 1136.4 582.5 1140.4 582.8 1144.4 583.1 1148.4 583.3 1152.4 583.5 1156.4 583.8 1160.4 584.0 1164.4 584.1 1168.4 584.3 1172.4 584.5 1176.4 584.6 1180.4 584.7 1184.4 584.9 1188.4 585.0 1192.4 585.1 1196.4 585.2 1200.4 585.3 1204.4 585.4 1208.4 585.5 1212.4 585.6 1216.4 585.7 1220.4 585.8 1224.4 585.9 1228.4 586.0 1232.4 586.1 1236.4 586.2 1240.4 586.3 1244.4 586.4 1248.4 586.6 1252.4 586.7 1256.4 586.9 1260.3 587.1 1264.3 587.3 1268.3 587.6 1272.3 587.8 1276.3 588.1 1280.3 588.4 1284.3 588.7 1288.3 589.1 1292.3 589.5 1296.2 589.9 1300.2 590.4 1304.2 590.9 1308.1 591.5 1312.1 592.0 1316.0 592.6 1320.0 593.3 1323.9 594.0 1327.9 594.7 1331.8 595.5 1335.7 596.3 1339.6 597.1 1343.5 598.0 1347.4 598.9 1351.3 599.8 1355.2 600.8 1359.0 601.8 1362.9 602.9 1366.7 604.0 1370.6 605.2 1374.4 606.3 1378.2 607.6 1382.0 608.8 1385.8 610.1 1389.6 611.4 1393.3 612.8 1397.1 614.2 1400.8 615.7 1404.5 617.2 1408.2 618.8 1411.8 620.4 1415.4 622.1 1419.0 623.9 1422.6 625.7 1426.1 627.6 1429.6 629.6 1433.0 631.6 1436.4 633.8 1439.7 636.0 1443.0 638.3 1446.2 640.7 1449.3 643.2 1452.4 645.7 1455.5 648.3 1458.5 650.9 1461.4 653.7 1464.2 656.5 1467.0 659.4 1469.7 662.3 1472.3 665.4 1474.8 668.5 1477.2 671.6 1479.6 674.8 1482.0 678.1 1484.3 681.3 1486.5 684.7 1488.7 688.0 1490.9 691.4 1493.0 694.8 1495.1 698.2 1497.2 701.6 1499.2 705.0 1501.1 708.5 1503.1 712.0 1505.0 715.5 1506.8 719.1 1508.7 722.7 1510.4 726.2 1512.2 729.8 1513.9 733.5 1515.5 737.1 1517.2 740.8 1518.7 744.4 1520.3 748.1 1521.8 751.8 1523.3 755.5 1524.7 759.3 1526.1 763.0 1527.5 766.8 1528.9 770.5 1530.2 774.3 1531.4 778.1 1532.7 781.9 1533.9 785.7 1535.1 789.5 1536.3 793.3 1537.4 797.2 1538.5 801.0 1539.6 804.9 1540.7 808.7 1541.8 812.6 1542.8 816.4 1543.8 820.3 1544.8 824.2 1545.8 828.1 1546.8 831.9 1547.7 835.8 1548.7 839.7 1549.6 843.6 1550.6 847.5 1551.5 851.4 1552.4 855.3 1553.4 859.2 1554.3 863.0 1555.2 866.9 1556.1 870.8 1557.0 874.7 1557.9 878.6 1558.8 882.5 1559.7 886.4 1560.6 890.3 1561.5 894.2 1562.4 898.1 1563.3 902.0 1564.2 905.9 1565.1 909.8 1566.0 913.7 1566.8 917.6 1567.7 921.5 1568.6 925.4 1569.5 929.3 1570.3 933.2 1571.2 937.1 1572.1 941.0 1572.9 945.0 1573.8 948.9 1574.7 952.8 1575.5 956.7 1576.4 960.6 1577.2 964.5 1578.1 968.4 1579.0 972.3 1579.8 976.2 1580.7 980.1 1581.5 984.0 1582.4 987.9 1583.2 991.8 1584.1 995.7 1585.0 999.6 1585.8 1003.6 1586.7 1007.5 1587.5 1011.4 1588.4 1015.3 1589.3 1019.2 1590.1 1023.1 1591.0 1027.0 1591.8 1030.9 1592.7 1034.8 1593.6 1038.7 1594.4 1042.6 1595.3 1046.5 1596.2 1050.4 1597.1 1054.3 1597.9 1058.2 1598.8 1062.1 1599.7 1066.0 1600.6 1069.9 1601.5 1073.8 1602.4 1077.7 1603.2 1081.6 1604.1 1085.5 1605.0 1089.4 1605.9 1093.3 1606.8 1097.2 1607.8 1101.1 1608.7 1105.0 1609.6 1108.9 1610.6 1112.8 1611.5 1116.7 1612.5 1120.5 1613.6 1124.4 1614.7 1128.2 1615.8 1132.1 1617.0 1135.9 1618.3 1139.7 1619.6 1143.5 1620.9 1147.2 1622.4 1151.0 1623.9 1154.7 1625.5 1158.3 1627.2 1162.0 1628.9 1165.6 1630.9 1169.0 1633.1 1172.3 1636.0 1174.5 1639.0 1174.2 1641.6 1171.5 1643.7 1168.1 1645.7 1164.6 1647.6 1161.1 1649.2 1157.4 1650.4 1153.7 1651.2 1149.8 1651.8 1145.9 1652.3 1141.9 1652.8 1137.9 1653.3 1133.9 1653.8 1130.0 1654.3 1126.0 1654.7 1122.0 1655.2 1118.1 1655.7 1114.1 1656.1 1110.1 1656.6 1106.1 1657.0 1102.2 1657.4 1098.2 1657.9 1094.2 1658.3 1090.2 1658.7 1086.3 1659.1 1082.3 1659.5 1078.3 1659.9 1074.3 1660.3 1070.3 1660.7 1066.4 1661.1 1062.4 1661.5 1058.4 1661.9 1054.4 1662.3 1050.4 1662.6 1046.4 1663.0 1042.5 1663.3 1038.5 1663.7 1034.5 1664.0 1030.5 1664.4 1026.5 1664.7 1022.5 1665.1 1018.6 1665.4 1014.6 1665.7 1010.6 1666.1 1006.6 1666.4 1002.6 1666.7 998.6 1667.0 994.6 1667.3 990.6 1667.6 986.7 1667.9 982.7 1668.2 978.7 1668.5 974.7 1668.8 970.7 1669.1 966.7 1669.4 962.7 1669.7 958.7 1670.0 954.7 1670.2 950.8 1670.5 946.8 1670.8 942.8 1671.1 938.8 1671.3 934.8 1671.6 930.8 1671.9 926.8 1672.1 922.8 1672.4 918.8 1672.6 914.8 1672.9 910.8 1673.2 906.8 1673.4 902.9 1673.7 898.9 1673.9 894.9 1674.2 890.9 1674.4 886.9 1674.6 882.9 1674.9 878.9 1675.1 874.9 1675.4 870.9 1675.6 866.9 1675.9 862.9 1676.1 858.9 1676.3 854.9 1676.6 851.0 1676.8 847.0 1677.1 843.0 1677.3 839.0 1677.5 835.0 1677.8 831.0 1678.0 827.0 1678.3 823.0 1678.5 819.0 1678.7 815.0 1679.0 811.0 1679.2 807.0 1679.4 803.0 1679.7 799.0 1679.9 795.1 1680.2 791.1 1680.4 787.1 1680.7 783.1 1680.9 779.1 1681.2 775.1 1681.4 771.1 1681.7 767.1 1681.9 763.1 1682.2 759.1 1682.5 755.1 1682.8 751.1 1683.0 747.2 1683.3 743.2 1683.6 739.2 1683.9 735.2 1684.2 731.2 1684.5 727.2 1684.9 723.2 1685.2 719.2 1685.5 715.3 1685.9 711.3 1686.2 707.3 1686.6 703.3 1687.0 699.3 1687.4 695.3 1687.8 691.4 1688.2 687.4 1688.6 683.4 1689.0 679.4 1689.5 675.4 1689.9 671.5 1690.4 667.5 1690.9 663.5 1691.4 659.6 1691.9 655.6 1692.4 651.6 1692.9 647.7 1693.5 643.7 1694.0 639.7 1694.6 635.8 1695.2 631.8 1695.8 627.9 1696.5 623.9 1697.1 620.0 1697.8 616.0 1698.5 612.1 1699.2 608.2 1699.9 604.2 1700.6 600.3 1701.4 596.4 1702.2 592.4 1703.0 588.5 1703.9 584.6 1704.8 580.7 1705.9 576.9 1706.9 573.0 1708.1 569.2 1709.3 565.4 1710.7 561.6 1712.1 557.9 1713.6 554.2 1715.2 550.5 1717.1 547.0 1719.1 543.6 1721.4 540.3 1723.9 537.2 1726.6 534.3 1729.5 531.5 1732.6 529.0 1735.8 526.6 1739.2 524.5 1742.7 522.7 1746.4 521.1 1750.1 519.7 1753.9 518.5 1757.8 517.4 1761.6 516.4 1765.5 515.4 1769.4 514.4 1773.3 513.5 1777.2 512.6 1781.1 511.7 1785.0 510.9 1788.9 510.0 1792.8 509.2 1796.7 508.4 1800.7 507.6 1804.6 506.8 1808.5 506.0 1812.4 505.3 1816.4 504.5 1820.3 503.8 1824.2 503.1 1828.2 502.4 1832.1 501.7 1836.0 501.0 1840.0 500.3 1843.9 499.7 1847.9 499.0 1851.8 498.4 1855.8 497.8 1859.7 497.1 1863.7 496.5 1867.6 496.0 1871.6 495.4 1875.6 494.8 1879.5 494.2 1883.5 493.7 1887.4 493.1 1891.4 492.6 1895.4 492.1 1899.3 491.6 1903.3 491.1 1907.3 490.6 1911.3 490.1 1915.2 489.6 1919.2 489.1 1923.2 488.6 1927.1 488.2 1931.1 487.7 1935.1 487.3 1939.1 486.8 1943.0 486.4 1947.0 486.0 1951.0 485.5 1955.0 485.1 1958.9 484.7 1962.9 484.3 1966.9 483.9 1970.9 483.5 1974.9 483.1 1978.8 482.7 1982.8 482.3 1986.8 481.9 1990.8 481.5 1994.8 481.1 1998.7 480.7 2002.7 480.3 2006.7 480.0 2010.7 479.6 2014.7 479.2 2018.7 478.8 2022.6 478.4 2026.6 478.1 2030.6 477.7 2034.6 477.3 2038.6 476.9 2042.6 476.6 2046.5 476.2 2050.5 475.8 2054.5 475.4 2058.5 475.0 2062.5 474.7 2066.4 474.3 2070.4 473.9 2074.4 473.5 2078.4 473.1 2082.4 472.7 2086.3 472.3 2089.8 472.0 2092.0 471.7" fill="none" stroke="#000000" stroke-width="7.7" stroke-linejoin="round" stroke-linecap="butt"/>
<path d="M408.3 633.3L416.5 635.8 419.6 633.2 422.7 630.7 425.9 628.3 429.1 626.0 432.5 623.8 435.9 621.7 439.3 619.6 442.7 617.6 446.3 615.7 449.8 613.8 453.3 612.0 456.9 610.2 460.6 608.5 464.2 606.8 467.8 605.2 471.5 603.6 475.2 602.1 478.9 600.5 482.6 599.0 486.3 597.5 490.0 596.0 493.7 594.5 497.5 593.1 501.2 591.7 504.9 590.2 508.7 588.9 512.4 587.5 516.2 586.1 520.0 584.8 523.7 583.4 527.5 582.1 531.3 580.8 535.1 579.5 538.9 578.3 542.7 577.0 546.5 575.8 550.3 574.6 554.1 573.4 557.9 572.2 561.8 571.1 565.6 569.9 569.4 568.8 573.3 567.7 577.1 566.6 581.0 565.5 584.8 564.4 588.7 563.3 592.5 562.3 596.4 561.3 600.3 560.2 604.2 559.2 608.0 558.3 611.9 557.3 615.8 556.3 619.7 555.4 623.6 554.4 627.5 553.5 631.4 552.6 635.3 551.7 639.2 550.8 643.1 550.0 647.0 549.1 650.9 548.3 654.8 547.4 658.7 546.6 662.6 545.8 666.5 545.0 670.5 544.2 674.4 543.4 678.3 542.6 682.2 541.9 686.2 541.1 690.1 540.4 694.0 539.7 698.0 538.9 701.9 538.2 705.8 537.5 709.8 536.8 713.7 536.1 717.6 535.4 721.6 534.8 725.5 534.1 729.5 533.4 733.4 532.8 737.4 532.1 741.3 531.5 745.3 530.8 749.2 530.2 753.2 529.6 757.1 529.0 761.1 528.4 765.0 527.7 769.0 527.1 772.9 526.5 776.9 525.9 780.8 525.3 784.8 524.8 788.8 524.2 792.7 523.6 796.7 523.0 800.6 522.4 804.6 521.8 808.5 521.3 812.5 520.7 816.5 520.1 820.4 519.5 824.4 519.0 828.3 518.4 832.3 517.8 836.3 517.3 840.2 516.7 844.2 516.2 848.1 515.6 852.1 515.1 856.1 514.5 860.0 514.0 864.0 513.4 868.0 512.9 871.9 512.3 875.9 511.8 879.9 511.3 883.8 510.8 887.8 510.2 891.8 509.7 895.7 509.2 899.7 508.7 903.7 508.2 907.6 507.7 911.6 507.2 915.6 506.8 919.5 506.3 923.5 505.8 927.5 505.3 931.5 504.9 935.4 504.4 939.4 504.0 943.4 503.6 947.4 503.1 951.3 502.7 955.3 502.3 959.3 501.9 963.3 501.5 967.3 501.1 971.2 500.7 975.2 500.3 979.2 500.0 983.2 499.6 987.2 499.3 991.2 498.9 995.1 498.6 999.1 498.3 1003.1 497.9 1007.1 497.6 1011.1 497.3 1015.1 497.1 1019.1 496.8 1023.1 496.5 1027.1 496.3 1031.1 496.0 1035.0 495.8 1039.0 495.6 1043.0 495.4 1047.0 495.2 1051.0 495.0 1055.0 494.8 1059.0 494.7 1063.0 494.5 1067.0 494.4 1071.0 494.3 1075.0 494.2 1079.0 494.2 1083.0 494.2 1087.0 494.2 1091.0 494.2 1095.0 494.3 1099.0 494.3 1103.0 494.5 1107.0 494.6 1111.0 494.9 1115.0 495.1 1119.0 495.4 1123.0 495.8 1126.9 496.2 1130.9 496.6 1134.9 497.1 1138.8 497.7 1142.8 498.3 1146.7 498.9 1150.7 499.6 1154.6 500.2 1158.6 500.9 1162.5 501.6 1166.5 502.3 1170.4 502.9 1174.4 503.5 1178.3 504.1 1182.3 504.7 1186.2 505.2 1190.2 505.7 1194.2 506.1 1198.2 506.5 1202.1 507.0 1206.1 507.4 1210.1 507.8 1214.1 508.1 1218.1 508.5 1222.1 508.9 1226.0 509.2 1230.0 509.6 1234.0 510.0 1238.0 510.3 1242.0 510.7 1245.9 511.1 1249.9 511.5 1253.9 512.0 1257.9 512.4 1261.8 512.9 1265.8 513.4 1269.8 513.9 1273.7 514.4 1277.7 515.0 1281.7 515.5 1285.6 516.1 1289.6 516.7 1293.5 517.3 1297.5 517.9 1301.5 518.5 1305.4 519.1 1309.4 519.7 1313.3 520.3 1317.3 520.9 1321.2 521.6 1325.2 522.2 1329.1 522.8 1333.1 523.5 1337.0 524.2 1340.9 524.9 1344.9 525.6 1348.8 526.4 1352.7 527.1 1356.6 527.9 1360.6 528.8 1364.5 529.6 1368.4 530.5 1372.3 531.4 1376.1 532.4 1380.0 533.3 1383.9 534.4 1387.7 535.4 1391.6 536.5 1395.4 537.7 1399.2 538.9 1403.0 540.1 1406.8 541.4 1410.6 542.7 1414.3 544.1 1418.1 545.6 1421.8 547.1 1425.4 548.7 1429.1 550.3 1432.7 552.1 1436.3 553.8 1439.8 555.7 1443.3 557.6 1446.8 559.6 1450.2 561.7 1453.6 563.9 1456.9 566.1 1460.2 568.4 1463.4 570.7 1466.6 573.1 1469.8 575.6 1472.9 578.1 1475.9 580.7 1478.9 583.4 1481.8 586.1 1484.7 588.8 1487.6 591.6 1490.4 594.4 1493.3 597.2 1496.1 600.1 1498.8 603.0 1501.4 606.0 1504.0 609.1 1506.5 612.2 1509.0 615.3 1511.4 618.5 1513.8 621.7 1516.1 625.0 1518.3 628.3 1520.5 631.7 1522.7 635.0 1524.8 638.5 1526.8 641.9 1528.7 645.4 1530.6 648.9 1532.5 652.5 1534.3 656.0 1536.0 659.6 1537.7 663.2 1539.4 666.9 1541.0 670.5 1542.6 674.2 1544.1 677.9 1545.6 681.6 1547.0 685.4 1548.4 689.1 1549.8 692.9 1551.2 696.6 1552.6 700.4 1553.9 704.1 1555.3 707.9 1556.6 711.7 1557.9 715.5 1559.2 719.3 1560.4 723.1 1561.7 726.8 1562.9 730.6 1564.2 734.5 1565.4 738.3 1566.6 742.1 1567.8 745.9 1569.0 749.7 1570.1 753.5 1571.3 757.4 1572.4 761.2 1573.6 765.0 1574.7 768.9 1575.8 772.7 1576.9 776.6 1578.0 780.4 1579.1 784.3 1580.1 788.1 1581.2 792.0 1582.2 795.9 1583.2 799.7 1584.2 803.6 1585.2 807.5 1586.2 811.3 1587.2 815.2 1588.2 819.1 1589.1 823.0 1590.1 826.9 1591.0 830.8 1592.0 834.6 1592.9 838.5 1593.8 842.4 1594.7 846.3 1595.6 850.2 1596.4 854.1 1597.3 858.0 1598.2 861.9 1599.0 865.9 1599.9 869.8 1600.7 873.7 1601.5 877.6 1602.3 881.5 1603.1 885.4 1603.9 889.3 1604.7 893.3 1605.5 897.2 1606.3 901.1 1607.0 905.0 1607.8 909.0 1608.6 912.9 1609.3 916.8 1610.0 920.8 1610.8 924.7 1611.5 928.6 1612.2 932.6 1612.9 936.5 1613.6 940.4 1614.3 944.4 1615.0 948.3 1615.7 952.3 1616.4 956.2 1617.1 960.1 1617.7 964.1 1618.4 968.0 1619.1 972.0 1619.7 975.9 1620.4 979.9 1621.0 983.8 1621.7 987.8 1622.3 991.7 1622.9 995.7 1623.6 999.6 1624.2 1003.6 1624.8 1007.5 1625.5 1011.5 1626.1 1015.4 1626.7 1019.4 1627.3 1023.3 1627.9 1027.3 1628.5 1031.2 1629.1 1035.2 1629.7 1039.1 1630.3 1043.1 1630.9 1047.0 1631.5 1051.0 1632.1 1054.9 1632.7 1058.9 1633.3 1062.9 1633.9 1066.8 1634.5 1070.8 1635.1 1074.7 1635.7 1078.7 1636.3 1082.6 1636.9 1086.6 1637.5 1090.5 1638.1 1094.5 1638.7 1098.4 1639.3 1102.4 1639.9 1106.4 1640.5 1110.3 1641.1 1114.3 1641.7 1118.2 1642.3 1122.2 1642.9 1126.1 1643.5 1130.1 1644.1 1134.0 1644.7 1138.0 1645.3 1141.9 1646.0 1145.9 1646.6 1149.9 1647.2 1153.8 1647.8 1157.8 1648.4 1161.7 1649.0 1165.7 1649.6 1169.6 1650.2 1173.6 1650.8 1177.5 1651.5 1181.5 1652.1 1185.4 1652.7 1189.4 1653.3 1193.3 1653.9 1197.3 1654.5 1201.2 1655.1 1205.2 1655.7 1209.1 1656.4 1213.1 1657.0 1217.0 1657.6 1221.0 1658.2 1225.0 1658.8 1228.9 1659.4 1232.9 1660.1 1236.8 1660.7 1240.8 1661.3 1244.7 1661.9 1248.7 1662.5 1252.6 1663.1 1256.6 1663.7 1260.5 1664.4 1264.5 1665.0 1268.4 1665.6 1272.4 1666.2 1276.3 1666.8 1280.3 1667.4 1284.2 1668.0 1288.2 1668.7 1292.1 1669.3 1296.1 1669.9 1300.1 1670.5 1304.0 1671.1 1308.0 1671.7 1311.9 1672.3 1315.9 1672.9 1319.8 1673.5 1323.8 1674.1 1327.7 1674.8 1331.7 1675.4 1335.6 1676.0 1339.6 1676.6 1343.5 1677.2 1347.5 1677.8 1351.4 1678.4 1355.4 1679.0 1359.4 1679.6 1363.3 1680.2 1367.3 1680.8 1371.2 1681.4 1375.2 1682.0 1379.1 1682.6 1383.1 1683.2 1387.0 1683.8 1391.0 1684.4 1395.0 1684.9 1398.9 1685.5 1402.9 1686.1 1406.8 1686.7 1410.8 1687.3 1414.7 1687.9 1418.7 1688.5 1422.6 1689.1 1426.6 1689.7 1430.6 1690.3 1434.5 1691.0 1438.5 1691.6 1442.4 1692.3 1446.3 1693.1 1450.3 1693.9 1454.2 1694.8 1458.1 1695.7 1462.0 1696.7 1465.8 1697.8 1469.7 1698.9 1473.5 1700.2 1477.3 1701.5 1481.1 1702.9 1484.9 1704.4 1488.7 1706.1 1492.5 1708.1 1496.6 1710.2 1500.6 1712.0 1502.7 1713.4 1501.1 1714.6 1496.8 1715.6 1492.2 1716.7 1488.2 1717.7 1484.3 1718.6 1480.4 1719.5 1476.5 1720.4 1472.6 1721.2 1468.6 1722.0 1464.7 1722.8 1460.8 1723.5 1456.9 1724.2 1452.9 1724.8 1449.0 1725.4 1445.0 1726.0 1441.1 1726.5 1437.1 1727.0 1433.1 1727.4 1429.2 1727.9 1425.2 1728.3 1421.2 1728.7 1417.2 1729.0 1413.2 1729.4 1409.2 1729.7 1405.3 1730.0 1401.3 1730.2 1397.3 1730.5 1393.3 1730.7 1389.3 1730.9 1385.3 1731.1 1381.3 1731.3 1377.3 1731.5 1373.3 1731.7 1369.3 1731.9 1365.3 1732.0 1361.3 1732.2 1357.3 1732.3 1353.3 1732.5 1349.3 1732.6 1345.3 1732.8 1341.3 1732.9 1337.3 1733.1 1333.3 1733.2 1329.3 1733.4 1325.3 1733.5 1321.4 1733.7 1317.4 1733.8 1313.4 1734.0 1309.4 1734.1 1305.4 1734.2 1301.4 1734.4 1297.4 1734.5 1293.4 1734.7 1289.4 1734.8 1285.4 1735.0 1281.4 1735.1 1277.4 1735.2 1273.4 1735.4 1269.4 1735.5 1265.4 1735.7 1261.4 1735.8 1257.4 1736.0 1253.4 1736.1 1249.4 1736.2 1245.4 1736.4 1241.4 1736.5 1237.4 1736.7 1233.4 1736.8 1229.4 1736.9 1225.4 1737.1 1221.4 1737.2 1217.4 1737.3 1213.4 1737.5 1209.4 1737.6 1205.4 1737.8 1201.4 1737.9 1197.4 1738.0 1193.4 1738.2 1189.4 1738.3 1185.4 1738.4 1181.4 1738.6 1177.4 1738.7 1173.4 1738.8 1169.4 1739.0 1165.4 1739.1 1161.4 1739.2 1157.5 1739.4 1153.5 1739.5 1149.5 1739.6 1145.5 1739.8 1141.5 1739.9 1137.5 1740.0 1133.5 1740.2 1129.5 1740.3 1125.5 1740.4 1121.5 1740.6 1117.5 1740.7 1113.5 1740.8 1109.5 1741.0 1105.5 1741.1 1101.5 1741.2 1097.5 1741.4 1093.5 1741.5 1089.5 1741.6 1085.5 1741.8 1081.5 1741.9 1077.5 1742.0 1073.5 1742.1 1069.5 1742.3 1065.5 1742.4 1061.5 1742.5 1057.5 1742.7 1053.5 1742.8 1049.5 1742.9 1045.5 1743.0 1041.5 1743.2 1037.5 1743.3 1033.5 1743.4 1029.5 1743.6 1025.5 1743.7 1021.5 1743.8 1017.5 1743.9 1013.5 1744.1 1009.5 1744.2 1005.5 1744.3 1001.5 1744.5 997.5 1744.6 993.5 1744.7 989.5 1744.8 985.5 1745.0 981.5 1745.1 977.5 1745.2 973.5 1745.4 969.5 1745.5 965.6 1745.6 961.6 1745.7 957.6 1745.9 953.6 1746.0 949.6 1746.1 945.6 1746.3 941.6 1746.4 937.6 1746.5 933.6 1746.6 929.6 1746.8 925.6 1746.9 921.6 1747.0 917.6 1747.1 913.6 1747.3 909.6 1747.4 905.6 1747.5 901.6 1747.7 897.6 1747.8 893.6 1747.9 889.6 1748.0 885.6 1748.2 881.6 1748.3 877.6 1748.4 873.6 1748.5 869.6 1748.7 865.6 1748.8 861.6 1748.9 857.6 1749.1 853.6 1749.2 849.6 1749.3 845.6 1749.4 841.6 1749.6 837.6 1749.7 833.6 1749.8 829.6 1750.0 825.6 1750.1 821.6 1750.2 817.6 1750.4 813.6 1750.5 809.6 1750.6 805.6 1750.8 801.6 1750.9 797.6 1751.0 793.6 1751.2 789.6 1751.3 785.6 1751.4 781.6 1751.6 777.6 1751.7 773.7 1751.8 769.7 1752.0 765.7 1752.1 761.7 1752.2 757.7 1752.4 753.7 1752.5 749.7 1752.6 745.7 1752.8 741.7 1752.9 737.7 1753.1 733.7 1753.2 729.7 1753.3 725.7 1753.5 721.7 1753.6 717.7 1753.8 713.7 1753.9 709.7 1754.0 705.7 1754.2 701.7 1754.3 697.7 1754.5 693.7 1754.6 689.7 1754.8 685.7 1754.9 681.7 1755.0 677.7 1755.2 673.7 1755.3 669.7 1755.5 665.7 1755.6 661.7 1755.8 657.7 1755.9 653.7 1756.1 649.7 1756.2 645.7 1756.4 641.7 1756.6 637.7 1756.7 633.7 1756.9 629.7 1757.0 625.7 1757.2 621.8 1757.3 617.8 1757.5 613.8 1757.7 609.8 1757.8 605.8 1758.0 601.8 1758.1 597.8 1758.3 593.8 1758.5 589.8 1758.6 585.8 1758.8 581.8 1759.0 577.8 1759.1 573.8 1759.3 569.8 1759.5 565.8 1759.6 561.8 1759.8 557.8 1760.0 553.8 1760.2 549.8 1760.4 545.8 1760.6 541.8 1760.8 537.8 1761.0 533.8 1761.3 529.8 1761.5 525.9 1761.8 521.9 1762.0 517.9 1762.3 513.9 1762.6 509.9 1763.0 505.9 1763.3 501.9 1763.7 497.9 1764.1 494.0 1764.5 490.0 1764.9 486.0 1765.4 482.0 1765.8 478.1 1766.4 474.1 1766.9 470.1 1767.6 466.2 1768.3 462.2 1769.1 458.3 1770.0 454.4 1771.0 450.6 1772.2 446.7 1773.5 443.0 1774.9 439.2 1776.6 435.6 1778.7 432.2 1781.0 429.0 1783.7 426.0 1786.6 423.4 1789.9 421.1 1793.3 419.3 1797.0 417.8 1800.8 416.7 1804.7 415.9 1808.7 415.3 1812.7 414.9 1816.7 414.5 1820.6 414.1 1824.6 413.7 1828.6 413.3 1832.6 412.9 1836.6 412.4 1840.5 411.9 1844.5 411.4 1848.5 410.9 1852.4 410.4 1856.4 409.9 1860.4 409.4 1864.3 408.9 1868.3 408.5 1872.3 408.0 1876.3 407.5 1880.2 407.1 1884.2 406.6 1888.2 406.2 1892.2 405.7 1896.1 405.3 1900.1 404.9 1904.1 404.4 1908.1 404.0 1912.0 403.6 1916.0 403.2 1920.0 402.9 1924.0 402.5 1928.0 402.1 1932.0 401.7 1935.9 401.4 1939.9 401.0 1943.9 400.7 1947.9 400.3 1951.9 400.0 1955.9 399.7 1959.9 399.3 1963.8 399.0 1967.8 398.7 1971.8 398.4 1975.8 398.1 1979.8 397.8 1983.8 397.5 1987.8 397.2 1991.8 396.9 1995.8 396.7 1999.7 396.4 2003.7 396.1 2007.7 395.9 2011.7 395.6 2015.7 395.4 2019.7 395.1 2023.7 394.9 2027.7 394.6 2031.7 394.4 2035.7 394.2 2039.7 393.9 2043.7 393.7 2047.7 393.5 2051.7 393.3 2055.6 393.1 2059.6 392.9 2063.6 392.7 2067.6 392.5 2071.6 392.3 2075.6 392.1 2079.6 391.9 2083.6 391.7 2087.6 391.5 2091.6 391.3 2094.0 391.2" fill="none" stroke="#00ff00" stroke-width="7.7" stroke-linejoin="round" stroke-linecap="butt"/>
<path d="M405.5 554.8L416.3 559.3 419.3 556.5 422.3 554.0 425.6 551.7 429.0 549.7 432.5 547.7 436.0 545.8 439.5 543.9 443.1 542.0 446.6 540.2 450.2 538.4 453.8 536.6 457.4 534.9 461.0 533.2 464.7 531.6 468.4 530.0 472.1 528.5 475.8 527.0 479.5 525.5 483.2 524.1 487.0 522.7 490.7 521.4 494.5 520.1 498.3 518.8 502.1 517.5 505.9 516.3 509.7 515.2 513.6 514.0 517.4 512.9 521.3 511.8 525.1 510.8 529.0 509.7 532.9 508.7 536.7 507.7 540.6 506.8 544.5 505.8 548.4 504.9 552.3 504.0 556.2 503.1 560.1 502.2 564.0 501.4 567.9 500.5 571.8 499.7 575.7 498.8 579.6 498.0 583.6 497.2 587.5 496.3 591.4 495.5 595.3 494.7 599.2 493.9 603.1 493.1 607.1 492.3 611.0 491.5 614.9 490.7 618.8 489.9 622.8 489.2 626.7 488.4 630.6 487.7 634.5 486.9 638.5 486.2 642.4 485.4 646.3 484.7 650.3 484.0 654.2 483.3 658.1 482.6 662.1 481.9 666.0 481.2 670.0 480.6 673.9 479.9 677.9 479.2 681.8 478.6 685.8 478.0 689.7 477.3 693.7 476.7 697.6 476.1 701.6 475.5 705.5 474.9 709.5 474.3 713.4 473.7 717.4 473.1 721.3 472.5 725.3 471.9 729.3 471.3 733.2 470.8 737.2 470.2 741.1 469.6 745.1 469.1 749.1 468.5 753.0 468.0 757.0 467.4 760.9 466.9 764.9 466.3 768.9 465.7 772.8 465.2 776.8 464.7 780.8 464.1 784.7 463.6 788.7 463.0 792.6 462.5 796.6 462.0 800.6 461.4 804.5 460.9 808.5 460.4 812.5 459.8 816.4 459.3 820.4 458.8 824.4 458.3 828.3 457.8 832.3 457.2 836.3 456.7 840.2 456.2 844.2 455.7 848.2 455.2 852.1 454.7 856.1 454.2 860.1 453.7 864.0 453.2 868.0 452.7 872.0 452.2 876.0 451.8 879.9 451.3 883.9 450.8 887.9 450.3 891.8 449.8 895.8 449.4 899.8 448.9 903.8 448.4 907.7 448.0 911.7 447.5 915.7 447.1 919.7 446.6 923.6 446.1 927.6 445.7 931.6 445.3 935.6 444.8 939.5 444.4 943.5 443.9 947.5 443.5 951.5 443.1 955.4 442.7 959.4 442.2 963.4 441.8 967.4 441.4 971.3 441.0 975.3 440.6 979.3 440.2 983.3 439.8 987.3 439.4 991.2 439.0 995.2 438.6 999.2 438.2 1003.2 437.8 1007.2 437.4 1011.2 437.0 1015.1 436.7 1019.1 436.3 1023.1 435.9 1027.1 435.6 1031.1 435.2 1035.1 434.8 1039.0 434.5 1043.0 434.1 1047.0 433.8 1051.0 433.4 1055.0 433.1 1059.0 432.8 1062.9 432.4 1066.9 432.1 1070.9 431.8 1074.9 431.5 1078.9 431.1 1082.9 430.8 1086.9 430.5 1090.9 430.2 1094.8 429.9 1098.8 429.6 1102.8 429.3 1106.8 429.0 1110.8 428.7 1114.8 428.5 1118.8 428.2 1122.8 427.9 1126.8 427.6 1130.8 427.4 1134.8 427.1 1138.7 426.9 1142.7 426.6 1146.7 426.3 1150.7 426.1 1154.7 425.9 1158.7 425.6 1162.7 425.4 1166.7 425.2 1170.7 424.9 1174.7 424.7 1178.7 424.5 1182.7 424.3 1186.7 424.1 1190.7 423.9 1194.7 423.7 1198.6 423.5 1202.6 423.3 1206.6 423.1 1210.6 422.9 1214.6 422.8 1218.6 422.6 1222.6 422.4 1226.6 422.2 1230.6 422.1 1234.6 421.9 1238.6 421.8 1242.6 421.6 1246.6 421.5 1250.6 421.3 1254.6 421.2 1258.6 421.0 1262.6 420.9 1266.6 420.7 1270.6 420.6 1274.6 420.5 1278.6 420.3 1282.6 420.2 1286.6 420.1 1290.6 419.9 1294.6 419.8 1298.6 419.7 1302.6 419.6 1306.6 419.4 1310.6 419.3 1314.6 419.2 1318.6 419.1 1322.6 419.0 1326.6 418.9 1330.6 418.8 1334.6 418.6 1338.6 418.5 1342.6 418.4 1346.6 418.3 1350.6 418.2 1354.6 418.1 1358.5 418.0 1362.5 417.9 1366.5 417.8 1370.5 417.7 1374.5 417.6 1378.5 417.5 1382.5 417.4 1386.5 417.3 1390.5 417.2 1394.5 417.0 1398.5 416.9 1402.5 416.8 1406.5 416.7 1410.5 416.6 1414.5 416.5 1418.5 416.4 1422.5 416.3 1426.5 416.2 1430.5 416.1 1434.5 415.9 1438.5 415.8 1442.5 415.7 1446.5 415.6 1450.5 415.5 1454.5 415.3 1458.5 415.2 1462.5 415.1 1466.5 415.0 1470.5 414.8 1474.5 414.7 1478.5 414.6 1482.5 414.4 1486.5 414.3 1490.5 414.1 1494.5 414.0 1498.5 413.9 1502.5 413.7 1506.5 413.6 1510.5 413.4 1514.5 413.2 1518.5 413.1 1522.5 412.9 1526.5 412.7 1530.5 412.6 1534.5 412.4 1538.5 412.2 1542.4 412.0 1546.4 411.8 1550.4 411.7 1554.4 411.5 1558.4 411.3 1562.4 411.1 1566.4 410.9 1570.4 410.6 1574.4 410.4 1578.4 410.2 1582.4 410.0 1586.4 409.8 1590.4 409.5 1594.4 409.3 1598.4 409.0 1602.4 408.8 1606.4 408.6 1610.3 408.3 1614.3 408.0 1618.3 407.8 1622.3 407.5 1626.3 407.3 1630.3 407.0 1634.3 406.7 1638.3 406.4 1642.3 406.2 1646.3 405.9 1650.3 405.6 1654.2 405.3 1658.2 405.0 1662.2 404.7 1666.2 404.5 1670.2 404.2 1674.2 403.9 1678.2 403.6 1682.2 403.3 1686.2 403.0 1690.2 402.7 1694.1 402.4 1698.1 402.1 1702.1 401.8 1706.1 401.5 1710.1 401.2 1714.1 401.0 1718.1 400.7 1722.1 400.4 1726.1 400.1 1730.0 399.8 1734.0 399.5 1738.0 399.2 1742.0 398.9 1746.0 398.7 1750.0 398.4 1754.0 398.1 1758.0 397.8 1762.0 397.5 1766.0 397.3 1769.9 397.0 1773.9 396.7 1777.9 396.5 1781.9 396.2 1785.9 396.0 1789.9 395.7 1793.9 395.5 1797.9 395.2 1801.9 395.0 1805.9 394.8 1809.9 394.5 1813.9 394.3 1817.9 394.1 1821.9 393.9 1825.8 393.7 1829.8 393.4 1833.8 393.2 1837.8 393.1 1841.8 392.9 1845.8 392.7 1849.8 392.5 1853.8 392.3 1857.8 392.1 1861.8 392.0 1865.8 391.8 1869.8 391.7 1873.8 391.5 1877.8 391.4 1881.8 391.2 1885.8 391.1 1889.8 390.9 1893.8 390.8 1897.8 390.7 1901.8 390.6 1905.8 390.4 1909.8 390.3 1913.8 390.2 1917.8 390.1 1921.8 390.0 1925.8 389.9 1929.8 389.8 1933.8 389.7 1937.8 389.6 1941.8 389.5 1945.8 389.5 1949.8 389.4 1953.8 389.3 1957.8 389.3 1961.8 389.2 1965.8 389.1 1969.8 389.1 1973.8 389.0 1977.8 389.0 1981.8 388.9 1985.8 388.9 1989.8 388.8 1993.8 388.8 1997.8 388.7 2001.8 388.7 2005.8 388.7 2009.8 388.6 2013.8 388.6 2017.8 388.6 2021.8 388.6 2025.8 388.6 2029.8 388.5 2033.8 388.5 2037.8 388.5 2041.8 388.5 2045.8 388.5 2049.8 388.5 2053.8 388.5 2057.8 388.5 2061.8 388.5 2065.8 388.5 2069.8 388.5 2073.8 388.5 2077.8 388.5 2081.8 388.5 2085.7 388.6 2089.7 388.6 2093.6 388.6 2094.5 388.6" fill="none" stroke="#ff0000" stroke-width="7.7" stroke-linejoin="round" stroke-linecap="butt"/>
<path d="M405.5 475.3L416.3 480.2 418.8 477.0 421.5 474.0 424.4 471.3 427.5 469.0 430.9 466.8 434.3 464.6 437.7 462.5 441.1 460.3 444.4 458.2 447.8 456.1 451.3 454.0 454.7 451.9 458.1 449.9 461.6 447.9 465.0 445.9 468.5 443.9 472.0 441.9 475.5 440.0 479.0 438.1 482.5 436.2 486.1 434.3 489.6 432.5 493.2 430.6 496.7 428.8 500.3 427.0 503.9 425.3 507.5 423.5 511.1 421.8 514.7 420.1 518.3 418.4 522.0 416.7 525.6 415.0 529.3 413.4 532.9 411.8 536.6 410.2 540.3 408.6 543.9 407.0 547.6 405.5 551.3 403.9 555.0 402.4 558.7 400.9 562.4 399.4 566.1 397.9 569.9 396.4 573.6 395.0 577.3 393.6 581.1 392.1 584.8 390.7 588.6 389.3 592.3 388.0 596.1 386.6 599.8 385.3 603.6 383.9 607.4 382.6 611.2 381.3 615.0 380.0 618.8 378.8 622.6 377.5 626.4 376.3 630.2 375.0 634.0 373.8 637.8 372.6 641.6 371.4 645.4 370.2 649.2 369.1 653.1 367.9 656.9 366.8 660.8 365.6 664.6 364.5 668.4 363.4 672.3 362.3 676.1 361.2 680.0 360.2 683.8 359.1 687.7 358.1 691.6 357.0 695.4 356.0 699.3 355.0 703.2 354.0 707.1 353.0 710.9 352.0 714.8 351.0 718.7 350.1 722.6 349.1 726.5 348.2 730.3 347.2 734.2 346.3 738.1 345.4 742.0 344.5 745.9 343.6 749.8 342.7 753.7 341.8 757.6 340.9 761.5 340.0 765.4 339.1 769.3 338.3 773.2 337.4 777.2 336.6 781.1 335.7 785.0 334.9 788.9 334.1 792.8 333.2 796.7 332.4 800.6 331.6 804.5 330.8 808.5 330.0 812.4 329.2 816.3 328.4 820.2 327.6 824.1 326.8 828.1 326.0 832.0 325.2 835.9 324.5 839.8 323.7 843.8 322.9 847.7 322.2 851.6 321.4 855.5 320.6 859.5 319.9 863.4 319.1 867.3 318.4 871.3 317.7 875.2 316.9 879.1 316.2 883.1 315.5 887.0 314.7 890.9 314.0 894.9 313.3 898.8 312.6 902.7 311.9 906.7 311.2 910.6 310.5 914.6 309.8 918.5 309.1 922.4 308.4 926.4 307.7 930.3 307.0 934.3 306.3 938.2 305.7 942.1 305.0 946.1 304.3 950.0 303.6 954.0 303.0 957.9 302.3 961.9 301.7 965.8 301.0 969.8 300.4 973.7 299.7 977.7 299.1 981.6 298.4 985.6 297.8 989.5 297.2 993.5 296.5 997.4 295.9 1001.4 295.3 1005.3 294.7 1009.3 294.1 1013.2 293.4 1017.2 292.8 1021.1 292.2 1025.1 291.6 1029.0 291.0 1033.0 290.4 1036.9 289.8 1040.9 289.2 1044.8 288.6 1048.8 288.1 1052.8 287.5 1056.7 286.9 1060.7 286.3 1064.6 285.7 1068.6 285.2 1072.6 284.6 1076.5 284.0 1080.5 283.5 1084.4 282.9 1088.4 282.3 1092.4 281.8 1096.3 281.2 1100.3 280.7 1104.2 280.1 1108.2 279.6 1112.2 279.0 1116.1 278.5 1120.1 278.0 1124.1 277.4 1128.0 276.9 1132.0 276.4 1135.9 275.8 1139.9 275.3 1143.9 274.8 1147.8 274.2 1151.8 273.7 1155.8 273.2 1159.7 272.7 1163.7 272.2 1167.7 271.7 1171.6 271.2 1175.6 270.6 1179.6 270.1 1183.5 269.6 1187.5 269.1 1191.5 268.6 1195.5 268.1 1199.4 267.6 1203.4 267.1 1207.4 266.7 1211.3 266.2 1215.3 265.7 1219.3 265.2 1223.2 264.7 1227.2 264.2 1231.2 263.7 1235.2 263.3 1239.1 262.8 1243.1 262.3 1247.1 261.8 1251.0 261.3 1255.0 260.9 1259.0 260.4 1263.0 259.9 1266.9 259.5 1270.9 259.0 1274.9 258.5 1278.8 258.1 1282.8 257.6 1286.8 257.1 1290.8 256.7 1294.7 256.2 1298.7 255.8 1302.7 255.3 1306.7 254.9 1310.6 254.4 1314.6 253.9 1318.6 253.5 1322.6 253.0 1326.5 252.6 1330.5 252.1 1334.5 251.7 1338.5 251.3 1342.4 250.8 1346.4 250.4 1350.4 249.9 1354.4 249.5 1358.3 249.0 1362.3 248.6 1366.3 248.1 1370.3 247.7 1374.2 247.3 1378.2 246.8 1382.2 246.4 1386.2 246.0 1390.1 245.5 1394.1 245.1 1398.1 244.6 1402.1 244.2 1406.0 243.8 1410.0 243.3 1414.0 242.9 1418.0 242.5 1422.0 242.0 1425.9 241.6 1429.9 241.2 1433.9 240.7 1437.9 240.3 1441.8 239.9 1445.8 239.5 1449.8 239.0 1453.8 238.6 1457.7 238.2 1461.7 237.7 1465.7 237.3 1469.7 236.9 1473.7 236.4 1477.6 236.0 1481.6 235.6 1485.6 235.2 1489.6 234.7 1493.5 234.3 1497.5 233.9 1501.5 233.4 1505.5 233.0 1509.4 232.6 1513.4 232.1 1517.4 231.7 1521.4 231.3 1525.3 230.8 1529.3 230.4 1533.3 230.0 1537.3 229.5 1541.3 229.1 1545.2 228.7 1549.2 228.2 1553.2 227.8 1557.2 227.4 1561.1 226.9 1565.1 226.5 1569.1 226.1 1573.1 225.6 1577.0 225.2 1581.0 224.8 1585.0 224.3 1589.0 223.9 1592.9 223.5 1596.9 223.0 1600.9 222.6 1604.9 222.2 1608.9 221.7 1612.8 221.3 1616.8 220.9 1620.8 220.5 1624.8 220.0 1628.7 219.6 1632.7 219.2 1636.7 218.7 1640.7 218.3 1644.6 217.9 1648.6 217.5 1652.6 217.0 1656.6 216.6 1660.6 216.2 1664.5 215.8 1668.5 215.3 1672.5 214.9 1676.5 214.5 1680.4 214.1 1684.4 213.7 1688.4 213.2 1692.4 212.8 1696.4 212.4 1700.3 212.0 1704.3 211.6 1708.3 211.2 1712.3 210.8 1716.3 210.3 1720.2 209.9 1724.2 209.5 1728.2 209.1 1732.2 208.7 1736.1 208.3 1740.1 207.9 1744.1 207.5 1748.1 207.1 1752.1 206.7 1756.0 206.3 1760.0 205.9 1764.0 205.5 1768.0 205.2 1772.0 204.8 1776.0 204.4 1779.9 204.0 1783.9 203.6 1787.9 203.2 1791.9 202.9 1795.9 202.5 1799.8 202.1 1803.8 201.7 1807.8 201.4 1811.8 201.0 1815.8 200.6 1819.8 200.3 1823.7 199.9 1827.7 199.5 1831.7 199.2 1835.7 198.8 1839.7 198.5 1843.7 198.1 1847.6 197.8 1851.6 197.4 1855.6 197.1 1859.6 196.7 1863.6 196.4 1867.6 196.1 1871.6 195.7 1875.5 195.4 1879.5 195.1 1883.5 194.7 1887.5 194.4 1891.5 194.1 1895.5 193.8 1899.5 193.5 1903.5 193.1 1907.4 192.8 1911.4 192.5 1915.4 192.2 1919.4 191.9 1923.4 191.6 1927.4 191.3 1931.4 191.0 1935.4 190.8 1939.4 190.5 1943.3 190.2 1947.3 189.9 1951.3 189.6 1955.3 189.4 1959.3 189.1 1963.3 188.8 1967.3 188.6 1971.3 188.3 1975.3 188.1 1979.3 187.8 1983.3 187.6 1987.3 187.3 1991.2 187.1 1995.2 186.8 1999.2 186.6 2003.2 186.4 2007.2 186.1 2011.2 185.9 2015.2 185.7 2019.2 185.5 2023.2 185.3 2027.2 185.1 2031.2 184.9 2035.2 184.7 2039.2 184.5 2043.2 184.3 2047.2 184.1 2051.2 183.9 2055.2 183.7 2059.2 183.6 2063.2 183.4 2067.1 183.2 2071.1 183.1 2075.1 182.9 2079.1 182.8 2083.1 182.6 2087.1 182.5 2091.1 182.3 2094.0 182.2" fill="none" stroke="#0000ff" stroke-width="7.7" stroke-linejoin="round" stroke-linecap="butt"/>
<rect x="277" y="82" width="8.2" height="1523.3" fill="#000"/>
<rect x="277" y="1597.4" width="1888.5" height="7.9" fill="#000"/>
<rect x="353.6" y="1600" width="8" height="30" fill="#000"/>
<text x="358.6" y="1712.2" font-size="82.5" text-anchor="middle" textLength="87.2" lengthAdjust="spacingAndGlyphs">10</text>
<rect x="547.3" y="1600" width="8" height="30" fill="#000"/>
<text x="550.8" y="1712.2" font-size="82.5" text-anchor="middle" textLength="87.2" lengthAdjust="spacingAndGlyphs">15</text>
<rect x="737.8" y="1600" width="8" height="30" fill="#000"/>
<text x="743.0" y="1712.2" font-size="82.5" text-anchor="middle" textLength="87.2" lengthAdjust="spacingAndGlyphs">20</text>
<rect x="931.8" y="1600" width="8" height="30" fill="#000"/>
<text x="935.2" y="1712.2" font-size="82.5" text-anchor="middle" textLength="87.2" lengthAdjust="spacingAndGlyphs">25</text>
<rect x="1123.4" y="1600" width="8" height="30" fill="#000"/>
<text x="1127.4" y="1712.2" font-size="82.5" text-anchor="middle" textLength="87.2" lengthAdjust="spacingAndGlyphs">30</text>
<rect x="1316.8" y="1600" width="8" height="30" fill="#000"/>
<text x="1319.6" y="1712.2" font-size="82.5" text-anchor="middle" textLength="87.2" lengthAdjust="spacingAndGlyphs">35</text>
<rect x="1507.8" y="1600" width="8" height="30" fill="#000"/>
<text x="1511.8" y="1712.2" font-size="82.5" text-anchor="middle" textLength="87.2" lengthAdjust="spacingAndGlyphs">40</text>
<rect x="1699.5" y="1600" width="8" height="30" fill="#000"/>
<text x="1704.0" y="1712.2" font-size="82.5" text-anchor="middle" textLength="87.2" lengthAdjust="spacingAndGlyphs">45</text>
<rect x="1892.5" y="1600" width="8" height="30" fill="#000"/>
<text x="1896.2" y="1712.2" font-size="82.5" text-anchor="middle" textLength="87.2" lengthAdjust="spacingAndGlyphs">50</text>
<rect x="2083.6" y="1600" width="8" height="30" fill="#000"/>
<text x="2088.4" y="1712.2" font-size="82.5" text-anchor="middle" textLength="87.2" lengthAdjust="spacingAndGlyphs">55</text>
<rect x="252.5" y="175.6" width="27" height="8" fill="#000"/>
<rect x="252.5" y="416.0" width="27" height="8" fill="#000"/>
<rect x="252.5" y="656.3" width="27" height="8" fill="#000"/>
<rect x="252.5" y="897.6" width="27" height="8" fill="#000"/>
<rect x="252.5" y="1138.8" width="27" height="8" fill="#000"/>
<rect x="252.5" y="1379.3" width="27" height="8" fill="#000"/>
<rect x="236.1" y="200" width="5.8" height="198" fill="#000"/>
<polygon points="239,177.5 250.5,209 227.5,209" fill="#000"/>
<polygon points="239,423 250.5,391.5 227.5,391.5" fill="#000"/>
<text x="79.73" y="341.5" font-size="81.2" textLength="154.14" lengthAdjust="spacingAndGlyphs">0.05</text>
<text transform="translate(140.6 0) rotate(-90)" font-size="85.5"><tspan x="-1104.79" y="0" font-size="85.5" textLength="330.45" lengthAdjust="spacingAndGlyphs">Heatflow</tspan> <tspan x="-748.77" y="0" font-size="85.5" textLength="151.56" lengthAdjust="spacingAndGlyphs">[Wg</tspan><tspan x="-594.96" y="-41" font-size="55.5" textLength="45.9" lengthAdjust="spacingAndGlyphs">-1</tspan><tspan x="-541.27" y="0" font-size="85.5" textLength="23.05" lengthAdjust="spacingAndGlyphs">]</tspan></text>
<text x="894.28" y="1847.9" font-size="87" textLength="661.07" lengthAdjust="spacingAndGlyphs">Temperature [°C]</text>
<rect x="454" y="855.0" width="150" height="8.0" fill="#0000ff"/>
<text x="619.12" y="880.2" font-size="68" textLength="518.29" lengthAdjust="spacingAndGlyphs" fill="#0000ff">G_TA_PA=3:0.1:1</text>
<rect x="454" y="934.2" width="150" height="8.0" fill="#ff0000"/>
<text x="619.14" y="959.5" font-size="68" textLength="342.52" lengthAdjust="spacingAndGlyphs" fill="#ff0000">G_TA=3:0.1</text>
<rect x="454" y="1013.5" width="150" height="8.0" fill="#00ff00"/>
<text x="619.07" y="1038.7" font-size="68" textLength="608.22" lengthAdjust="spacingAndGlyphs" fill="#00ff00">G_TA_F-127=3:0.1:2</text>
<rect x="454" y="1092.8" width="150" height="8.0" fill="#000000"/>
<text x="619.1" y="1118.0" font-size="68" textLength="776.67" lengthAdjust="spacingAndGlyphs" fill="#000000">G_TA_F-127_PA=3:0.1:2:1</text>
<text x="1083.85" y="488.9" font-size="45" textLength="141.56" lengthAdjust="spacingAndGlyphs" font-weight="bold">30.4 °C</text>
<text x="1103.44" y="571.0" font-size="45" textLength="144.09" lengthAdjust="spacingAndGlyphs" font-weight="bold">31.9 °C</text>
<text x="1352.04" y="475.0" font-size="44.5" textLength="145.49" lengthAdjust="spacingAndGlyphs" font-weight="bold"><tspan font-style="italic">T</tspan>Onset</text>
<text x="1253.53" y="660.3" font-size="44.5" textLength="146.21" lengthAdjust="spacingAndGlyphs" font-weight="bold"><tspan font-style="italic">T</tspan>Onset</text>
<line x1="1018.9" y1="549.5" x2="1125.7" y2="514.7" stroke="#000" stroke-width="5"/><polygon points="1144.7,508.5 1127.5,526.7 1120.1,503.9" fill="#000"/>
<line x1="1062.6" y1="642.7" x2="1172.2" y2="602.4" stroke="#000" stroke-width="5"/><polygon points="1191.0,595.5 1174.5,614.4 1166.2,591.8" fill="#000"/>
<line x1="1479.5" y1="483.1" x2="1514.8" y2="595.3" stroke="#000" stroke-width="5"/><polygon points="1520.8,614.4 1502.8,597.0 1525.6,589.8" fill="#000"/>
<line x1="1314.5" y1="692.6" x2="1449.6" y2="673.6" stroke="#000" stroke-width="5"/><polygon points="1469.4,670.8 1449.3,685.7 1445.9,662.0" fill="#000"/>
<g transform="translate(394 0) rotate(-90)"><text x="-1438.29" y="0" font-size="65.5" textLength="187.59" lengthAdjust="spacingAndGlyphs">ENDO</text></g>
<rect x="419.3" y="1256" width="5.3" height="150" fill="#000"/>
<polygon points="422.3,1431 435.3,1400.5 410.3,1400.5" fill="#000"/>
</svg>
</body>
</html>
